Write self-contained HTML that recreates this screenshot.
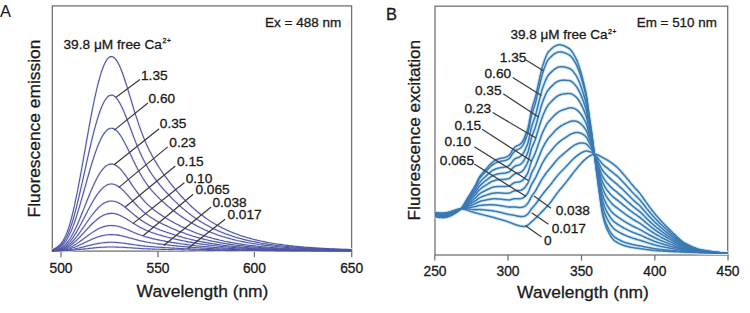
<!DOCTYPE html>
<html><head><meta charset="utf-8"><style>
html,body{margin:0;padding:0;background:#fff;width:750px;height:313px;overflow:hidden}
svg{display:block}
</style></head><body>
<svg width="750" height="313" viewBox="0 0 750 313"><g fill="none" stroke="#727272" stroke-width="1.3"><rect x="52.3" y="5.9" width="299.3" height="245.2"/><rect x="435" y="6.2" width="292.7" height="248.8"/><line x1="61" y1="251.1" x2="61" y2="257.2"/><line x1="158" y1="251.1" x2="158" y2="257.2"/><line x1="254.4" y1="251.1" x2="254.4" y2="257.2"/><line x1="351.7" y1="251.1" x2="351.7" y2="257.2"/><line x1="434.8" y1="255" x2="434.8" y2="260.6"/><line x1="508" y1="255" x2="508" y2="260.6"/><line x1="581.5" y1="255" x2="581.5" y2="260.6"/><line x1="654.8" y1="255" x2="654.8" y2="260.6"/><line x1="728" y1="255" x2="728" y2="260.6"/></g><g fill="none" stroke="#e9ebf5" stroke-width="2.4" stroke-linejoin="round"><path d="M52,250.3 53.5,249.3 55,248.4 56.5,247.5 58,246.4 59.5,245.2 61,243.6 62.5,241.6 64,239.1 65.5,236.1 67,232.5 68.5,228.3 70,223.4 71.5,218 73,212 74.5,205.5 76,198.4 77.5,191 79,183.2 80.5,175.1 82,166.8 83.5,158.3 85,149.8 86.5,141.4 88,133 89.5,124.7 91,116.7 92.5,108.9 94,101.5 95.5,94.6 97,88 98.5,82 100,76.6 101.5,71.7 103,67.5 104.5,63.9 106,61 107.5,58.8 109,57.4 110.5,56.6 112,56.6 113.5,57.2 115,58.5 116.5,60.4 118,62.8 119.5,65.8 121,69.3 122.5,73.2 124,77.5 125.5,82 127,86.7 128.5,91.6 130,96.5 131.5,101.5 133,106.5 134.5,111.4 136,116.1 137.5,120.7 139,125.2 140.5,129.4 142,133.4 143.5,137.3 145,140.9 146.5,144.4 148,147.6 149.5,150.7 151,153.6 152.5,156.4 154,159.1 155.5,161.6 157,164.1 158.5,166.5 160,168.8 161.5,171 163,173.2 164.5,175.3 166,177.4 167.5,179.4 169,181.4 170.5,183.4 172,185.3 173.5,187.2 175,189 176.5,190.8 178,192.5 179.5,194.2 181,195.9 182.5,197.5 184,199.1 185.5,200.7 187,202.2 188.5,203.7 190,205.1 191.5,206.5 193,207.9 194.5,209.2 196,210.5 197.5,211.8 199,213 200.5,214.2 202,215.3 203.5,216.4 205,217.5 206.5,218.6 208,219.6 209.5,220.6 211,221.6 212.5,222.5 214,223.4 215.5,224.3 217,225.1 218.5,226 220,226.8 221.5,227.5 223,228.3 224.5,229 226,229.7 227.5,230.4 229,231.1 230.5,231.7 232,232.3 233.5,232.9 235,233.5 236.5,234.1 238,234.6 239.5,235.2 241,235.7 242.5,236.2 244,236.6 245.5,237.1 247,237.6 248.5,238 250,238.4 251.5,238.8 253,239.2 254.5,239.6 256,239.9 257.5,240.3 259,240.6 260.5,241 262,241.3 263.5,241.6 265,241.9 266.5,242.2 268,242.5 269.5,242.8 271,243 272.5,243.3 274,243.5 275.5,243.8 277,244 278.5,244.2 280,244.4 281.5,244.6 283,244.8 284.5,245 286,245.2 287.5,245.4 289,245.6 290.5,245.8 292,245.9 293.5,246.1 295,246.2 296.5,246.4 298,246.5 299.5,246.7 301,246.8 302.5,246.9 304,247.1 305.5,247.2 307,247.3 308.5,247.4 310,247.5 311.5,247.6 313,247.7 314.5,247.8 316,247.9 317.5,248 319,248.1 320.5,248.2 322,248.3 323.5,248.4 325,248.5 326.5,248.5 328,248.6 329.5,248.7 331,248.8 332.5,248.8 334,248.9 335.5,249 337,249 338.5,249.1 340,249.1 341.5,249.2 343,249.2 344.5,249.3 346,249.4 347.5,249.4 349,249.5 350.5,249.5 352,249.5"/><path d="M52,250.4 53.5,249.6 55,248.9 56.5,248.2 58,247.3 59.5,246.3 61,245 62.5,243.4 64,241.5 65.5,239 67,236.2 68.5,232.8 70,228.9 71.5,224.6 73,219.7 74.5,214.5 76,208.9 77.5,202.9 79,196.6 80.5,190.2 82,183.5 83.5,176.7 85,169.9 86.5,163.1 88,156.4 89.5,149.8 91,143.3 92.5,137.1 94,131.2 95.5,125.6 97,120.4 98.5,115.6 100,111.2 101.5,107.3 103,103.9 104.5,101 106,98.7 107.5,97 109,95.8 110.5,95.2 112,95.1 113.5,95.6 115,96.7 116.5,98.2 118,100.2 119.5,102.6 121,105.4 122.5,108.5 124,111.9 125.5,115.5 127,119.3 128.5,123.2 130,127.2 131.5,131.2 133,135.2 134.5,139.1 136,142.9 137.5,146.6 139,150.1 140.5,153.5 142,156.8 143.5,159.8 145,162.8 146.5,165.5 148,168.1 149.5,170.6 151,173 152.5,175.2 154,177.3 155.5,179.4 157,181.3 158.5,183.2 160,185.1 161.5,186.9 163,188.6 164.5,190.3 166,192 167.5,193.6 169,195.2 170.5,196.8 172,198.3 173.5,199.8 175,201.3 176.5,202.7 178,204.1 179.5,205.5 181,206.8 182.5,208.2 184,209.4 185.5,210.7 187,211.9 188.5,213.1 190,214.2 191.5,215.4 193,216.5 194.5,217.5 196,218.6 197.5,219.6 199,220.5 200.5,221.5 202,222.4 203.5,223.3 205,224.2 206.5,225 208,225.8 209.5,226.6 211,227.4 212.5,228.2 214,228.9 215.5,229.6 217,230.3 218.5,230.9 220,231.6 221.5,232.2 223,232.8 224.5,233.4 226,234 227.5,234.5 229,235 230.5,235.5 232,236 233.5,236.5 235,237 236.5,237.4 238,237.9 239.5,238.3 241,238.7 242.5,239.1 244,239.5 245.5,239.9 247,240.2 248.5,240.6 250,240.9 251.5,241.2 253,241.5 254.5,241.8 256,242.1 257.5,242.4 259,242.7 260.5,243 262,243.2 263.5,243.5 265,243.7 266.5,243.9 268,244.2 269.5,244.4 271,244.6 272.5,244.8 274,245 275.5,245.2 277,245.4 278.5,245.6 280,245.7 281.5,245.9 283,246.1 284.5,246.2 286,246.4 287.5,246.5 289,246.7 290.5,246.8 292,246.9 293.5,247.1 295,247.2 296.5,247.3 298,247.4 299.5,247.5 301,247.6 302.5,247.7 304,247.8 305.5,247.9 307,248 308.5,248.1 310,248.2 311.5,248.3 313,248.4 314.5,248.5 316,248.5 317.5,248.6 319,248.7 320.5,248.8 322,248.8 323.5,248.9 325,249 326.5,249 328,249.1 329.5,249.1 331,249.2 332.5,249.3 334,249.3 335.5,249.4 337,249.4 338.5,249.5 340,249.5 341.5,249.6 343,249.6 344.5,249.6 346,249.7 347.5,249.7 349,249.8 350.5,249.8 352,249.8"/><path d="M52,250.5 53.5,249.9 55,249.4 56.5,248.8 58,248.1 59.5,247.3 61,246.3 62.5,245 64,243.5 65.5,241.6 67,239.3 68.5,236.6 70,233.6 71.5,230.2 73,226.4 74.5,222.2 76,217.8 77.5,213.1 79,208.2 80.5,203.1 82,197.8 83.5,192.5 85,187.1 86.5,181.8 88,176.5 89.5,171.3 91,166.2 92.5,161.3 94,156.6 95.5,152.2 97,148.1 98.5,144.3 100,140.9 101.5,137.8 103,135.1 104.5,132.9 106,131.1 107.5,129.7 109,128.8 110.5,128.3 112,128.2 113.5,128.6 115,129.4 116.5,130.6 118,132.2 119.5,134.1 121,136.3 122.5,138.8 124,141.4 125.5,144.3 127,147.3 128.5,150.3 130,153.5 131.5,156.6 133,159.8 134.5,162.8 136,165.8 137.5,168.7 139,171.5 140.5,174.2 142,176.8 143.5,179.2 145,181.5 146.5,183.7 148,185.7 149.5,187.7 151,189.5 152.5,191.3 154,193 155.5,194.6 157,196.1 158.5,197.6 160,199.1 161.5,200.5 163,201.9 164.5,203.2 166,204.5 167.5,205.8 169,207.1 170.5,208.3 172,209.5 173.5,210.7 175,211.8 176.5,213 178,214.1 179.5,215.2 181,216.2 182.5,217.3 184,218.3 185.5,219.2 187,220.2 188.5,221.1 190,222 191.5,222.9 193,223.8 194.5,224.6 196,225.4 197.5,226.2 199,227 200.5,227.8 202,228.5 203.5,229.2 205,229.9 206.5,230.5 208,231.2 209.5,231.8 211,232.4 212.5,233 214,233.6 215.5,234.1 217,234.7 218.5,235.2 220,235.7 221.5,236.2 223,236.7 224.5,237.1 226,237.6 227.5,238 229,238.4 230.5,238.8 232,239.2 233.5,239.6 235,240 236.5,240.3 238,240.7 239.5,241 241,241.3 242.5,241.6 244,241.9 245.5,242.2 247,242.5 248.5,242.8 250,243 251.5,243.3 253,243.6 254.5,243.8 256,244 257.5,244.2 259,244.5 260.5,244.7 262,244.9 263.5,245.1 265,245.3 266.5,245.4 268,245.6 269.5,245.8 271,246 272.5,246.1 274,246.3 275.5,246.4 277,246.6 278.5,246.7 280,246.9 281.5,247 283,247.1 284.5,247.2 286,247.4 287.5,247.5 289,247.6 290.5,247.7 292,247.8 293.5,247.9 295,248 296.5,248.1 298,248.2 299.5,248.3 301,248.4 302.5,248.4 304,248.5 305.5,248.6 307,248.7 308.5,248.7 310,248.8 311.5,248.9 313,248.9 314.5,249 316,249.1 317.5,249.1 319,249.2 320.5,249.2 322,249.3 323.5,249.3 325,249.4 326.5,249.4 328,249.5 329.5,249.5 331,249.6 332.5,249.6 334,249.7 335.5,249.7 337,249.8 338.5,249.8 340,249.8 341.5,249.9 343,249.9 344.5,249.9 346,250 347.5,250 349,250 350.5,250.1 352,250.1"/><path d="M52,250.7 53.5,250.2 55,249.8 56.5,249.4 58,249 59.5,248.4 61,247.7 62.5,246.8 64,245.7 65.5,244.3 67,242.7 68.5,240.8 70,238.7 71.5,236.2 73,233.6 74.5,230.6 76,227.5 77.5,224.2 79,220.7 80.5,217 82,213.3 83.5,209.6 85,205.8 86.5,202 88,198.2 89.5,194.5 91,190.9 92.5,187.5 94,184.2 95.5,181 97,178.1 98.5,175.4 100,173 101.5,170.8 103,168.9 104.5,167.3 106,166 107.5,165.1 109,164.4 110.5,164.1 112,164 113.5,164.3 115,164.9 116.5,165.7 118,166.8 119.5,168.2 121,169.7 122.5,171.5 124,173.4 125.5,175.4 127,177.5 128.5,179.7 130,181.9 131.5,184.1 133,186.4 134.5,188.5 136,190.7 137.5,192.7 139,194.7 140.5,196.6 142,198.4 143.5,200.1 145,201.8 146.5,203.3 148,204.8 149.5,206.1 151,207.4 152.5,208.7 154,209.9 155.5,211 157,212.1 158.5,213.2 160,214.2 161.5,215.2 163,216.2 164.5,217.1 166,218.1 167.5,219 169,219.9 170.5,220.8 172,221.6 173.5,222.4 175,223.3 176.5,224.1 178,224.8 179.5,225.6 181,226.4 182.5,227.1 184,227.8 185.5,228.5 187,229.2 188.5,229.8 190,230.5 191.5,231.1 193,231.7 194.5,232.3 196,232.9 197.5,233.5 199,234 200.5,234.5 202,235 203.5,235.5 205,236 206.5,236.5 208,237 209.5,237.4 211,237.8 212.5,238.3 214,238.7 215.5,239.1 217,239.4 218.5,239.8 220,240.2 221.5,240.5 223,240.8 224.5,241.2 226,241.5 227.5,241.8 229,242.1 230.5,242.4 232,242.7 233.5,242.9 235,243.2 236.5,243.4 238,243.7 239.5,243.9 241,244.1 242.5,244.4 244,244.6 245.5,244.8 247,245 248.5,245.2 250,245.4 251.5,245.5 253,245.7 254.5,245.9 256,246.1 257.5,246.2 259,246.4 260.5,246.5 262,246.7 263.5,246.8 265,246.9 266.5,247.1 268,247.2 269.5,247.3 271,247.4 272.5,247.5 274,247.7 275.5,247.8 277,247.9 278.5,248 280,248.1 281.5,248.2 283,248.2 284.5,248.3 286,248.4 287.5,248.5 289,248.6 290.5,248.7 292,248.7 293.5,248.8 295,248.9 296.5,248.9 298,249 299.5,249.1 301,249.1 302.5,249.2 304,249.2 305.5,249.3 307,249.3 308.5,249.4 310,249.4 311.5,249.5 313,249.5 314.5,249.6 316,249.6 317.5,249.7 319,249.7 320.5,249.8 322,249.8 323.5,249.8 325,249.9 326.5,249.9 328,249.9 329.5,250 331,250 332.5,250 334,250.1 335.5,250.1 337,250.1 338.5,250.1 340,250.2 341.5,250.2 343,250.2 344.5,250.2 346,250.3 347.5,250.3 349,250.3 350.5,250.3 352,250.3"/><path d="M52,250.7 53.5,250.4 55,250.1 56.5,249.8 58,249.4 59.5,249 61,248.4 62.5,247.8 64,246.9 65.5,245.9 67,244.6 68.5,243.2 70,241.5 71.5,239.6 73,237.6 74.5,235.3 76,232.9 77.5,230.3 79,227.6 80.5,224.8 82,222 83.5,219.1 85,216.2 86.5,213.2 88,210.3 89.5,207.5 91,204.7 92.5,202.1 94,199.5 95.5,197.1 97,194.9 98.5,192.8 100,190.9 101.5,189.2 103,187.8 104.5,186.6 106,185.6 107.5,184.8 109,184.3 110.5,184 112,184 113.5,184.2 115,184.7 116.5,185.3 118,186.2 119.5,187.2 121,188.4 122.5,189.8 124,191.2 125.5,192.8 127,194.4 128.5,196.1 130,197.8 131.5,199.5 133,201.2 134.5,202.9 136,204.5 137.5,206.1 139,207.7 140.5,209.1 142,210.5 143.5,211.8 145,213.1 146.5,214.3 148,215.4 149.5,216.4 151,217.5 152.5,218.4 154,219.3 155.5,220.2 157,221.1 158.5,221.9 160,222.7 161.5,223.4 163,224.2 164.5,224.9 166,225.6 167.5,226.3 169,227 170.5,227.7 172,228.4 173.5,229 175,229.6 176.5,230.3 178,230.9 179.5,231.4 181,232 182.5,232.6 184,233.1 185.5,233.7 187,234.2 188.5,234.7 190,235.2 191.5,235.7 193,236.2 194.5,236.6 196,237.1 197.5,237.5 199,237.9 200.5,238.3 202,238.7 203.5,239.1 205,239.5 206.5,239.8 208,240.2 209.5,240.5 211,240.9 212.5,241.2 214,241.5 215.5,241.8 217,242.1 218.5,242.4 220,242.7 221.5,242.9 223,243.2 224.5,243.4 226,243.7 227.5,243.9 229,244.1 230.5,244.4 232,244.6 233.5,244.8 235,245 236.5,245.2 238,245.4 239.5,245.5 241,245.7 242.5,245.9 244,246.1 245.5,246.2 247,246.4 248.5,246.5 250,246.7 251.5,246.8 253,246.9 254.5,247.1 256,247.2 257.5,247.3 259,247.4 260.5,247.5 262,247.7 263.5,247.8 265,247.9 266.5,248 268,248.1 269.5,248.2 271,248.3 272.5,248.3 274,248.4 275.5,248.5 277,248.6 278.5,248.7 280,248.7 281.5,248.8 283,248.9 284.5,248.9 286,249 287.5,249.1 289,249.1 290.5,249.2 292,249.3 293.5,249.3 295,249.4 296.5,249.4 298,249.5 299.5,249.5 301,249.6 302.5,249.6 304,249.6 305.5,249.7 307,249.7 308.5,249.8 310,249.8 311.5,249.8 313,249.9 314.5,249.9 316,249.9 317.5,250 319,250 320.5,250 322,250.1 323.5,250.1 325,250.1 326.5,250.2 328,250.2 329.5,250.2 331,250.2 332.5,250.3 334,250.3 335.5,250.3 337,250.3 338.5,250.3 340,250.4 341.5,250.4 343,250.4 344.5,250.4 346,250.4 347.5,250.4 349,250.5 350.5,250.5 352,250.5"/><path d="M52,250.8 53.5,250.6 55,250.3 56.5,250.1 58,249.8 59.5,249.5 61,249.1 62.5,248.6 64,247.9 65.5,247.2 67,246.2 68.5,245.2 70,243.9 71.5,242.5 73,241 74.5,239.3 76,237.5 77.5,235.6 79,233.6 80.5,231.5 82,229.4 83.5,227.2 85,225 86.5,222.8 88,220.7 89.5,218.5 91,216.5 92.5,214.5 94,212.6 95.5,210.8 97,209.1 98.5,207.6 100,206.2 101.5,204.9 103,203.8 104.5,202.9 106,202.2 107.5,201.6 109,201.2 110.5,201 112,201 113.5,201.2 115,201.5 116.5,202 118,202.6 119.5,203.4 121,204.3 122.5,205.3 124,206.4 125.5,207.5 127,208.8 128.5,210 130,211.3 131.5,212.6 133,213.8 134.5,215.1 136,216.3 137.5,217.5 139,218.6 140.5,219.7 142,220.8 143.5,221.8 145,222.7 146.5,223.6 148,224.4 149.5,225.2 151,226 152.5,226.7 154,227.4 155.5,228 157,228.7 158.5,229.3 160,229.9 161.5,230.4 163,231 164.5,231.5 166,232.1 167.5,232.6 169,233.1 170.5,233.6 172,234.1 173.5,234.6 175,235.1 176.5,235.5 178,236 179.5,236.4 181,236.8 182.5,237.3 184,237.7 185.5,238.1 187,238.5 188.5,238.8 190,239.2 191.5,239.6 193,239.9 194.5,240.3 196,240.6 197.5,240.9 199,241.2 200.5,241.5 202,241.8 203.5,242.1 205,242.4 206.5,242.7 208,242.9 209.5,243.2 211,243.4 212.5,243.7 214,243.9 215.5,244.1 217,244.4 218.5,244.6 220,244.8 221.5,245 223,245.2 224.5,245.4 226,245.5 227.5,245.7 229,245.9 230.5,246 232,246.2 233.5,246.4 235,246.5 236.5,246.7 238,246.8 239.5,246.9 241,247.1 242.5,247.2 244,247.3 245.5,247.4 247,247.5 248.5,247.7 250,247.8 251.5,247.9 253,248 254.5,248.1 256,248.2 257.5,248.3 259,248.3 260.5,248.4 262,248.5 263.5,248.6 265,248.7 266.5,248.7 268,248.8 269.5,248.9 271,248.9 272.5,249 274,249.1 275.5,249.1 277,249.2 278.5,249.3 280,249.3 281.5,249.4 283,249.4 284.5,249.5 286,249.5 287.5,249.6 289,249.6 290.5,249.7 292,249.7 293.5,249.7 295,249.8 296.5,249.8 298,249.9 299.5,249.9 301,249.9 302.5,250 304,250 305.5,250 307,250.1 308.5,250.1 310,250.1 311.5,250.1 313,250.2 314.5,250.2 316,250.2 317.5,250.2 319,250.3 320.5,250.3 322,250.3 323.5,250.3 325,250.3 326.5,250.4 328,250.4 329.5,250.4 331,250.4 332.5,250.4 334,250.5 335.5,250.5 337,250.5 338.5,250.5 340,250.5 341.5,250.5 343,250.6 344.5,250.6 346,250.6 347.5,250.6 349,250.6 350.5,250.6 352,250.6"/><path d="M52,250.9 53.5,250.7 55,250.5 56.5,250.3 58,250.1 59.5,249.9 61,249.6 62.5,249.2 64,248.7 65.5,248.1 67,247.4 68.5,246.6 70,245.7 71.5,244.6 73,243.5 74.5,242.2 76,240.8 77.5,239.4 79,237.9 80.5,236.3 82,234.7 83.5,233.1 85,231.4 86.5,229.8 88,228.2 89.5,226.6 91,225 92.5,223.5 94,222.1 95.5,220.8 97,219.5 98.5,218.3 100,217.3 101.5,216.3 103,215.5 104.5,214.8 106,214.3 107.5,213.9 109,213.6 110.5,213.4 112,213.4 113.5,213.5 115,213.8 116.5,214.1 118,214.6 119.5,215.2 121,215.9 122.5,216.6 124,217.5 125.5,218.3 127,219.2 128.5,220.2 130,221.1 131.5,222.1 133,223.1 134.5,224 136,224.9 137.5,225.8 139,226.7 140.5,227.5 142,228.3 143.5,229 145,229.7 146.5,230.4 148,231 149.5,231.6 151,232.2 152.5,232.7 154,233.2 155.5,233.7 157,234.2 158.5,234.7 160,235.1 161.5,235.5 163,236 164.5,236.4 166,236.8 167.5,237.2 169,237.5 170.5,237.9 172,238.3 173.5,238.7 175,239 176.5,239.4 178,239.7 179.5,240 181,240.4 182.5,240.7 184,241 185.5,241.3 187,241.6 188.5,241.9 190,242.1 191.5,242.4 193,242.7 194.5,242.9 196,243.2 197.5,243.4 199,243.7 200.5,243.9 202,244.1 203.5,244.3 205,244.5 206.5,244.7 208,244.9 209.5,245.1 211,245.3 212.5,245.5 214,245.7 215.5,245.8 217,246 218.5,246.2 220,246.3 221.5,246.5 223,246.6 224.5,246.8 226,246.9 227.5,247 229,247.1 230.5,247.3 232,247.4 233.5,247.5 235,247.6 236.5,247.7 238,247.8 239.5,247.9 241,248 242.5,248.1 244,248.2 245.5,248.3 247,248.4 248.5,248.5 250,248.6 251.5,248.6 253,248.7 254.5,248.8 256,248.9 257.5,248.9 259,249 260.5,249.1 262,249.1 263.5,249.2 265,249.2 266.5,249.3 268,249.4 269.5,249.4 271,249.5 272.5,249.5 274,249.6 275.5,249.6 277,249.6 278.5,249.7 280,249.7 281.5,249.8 283,249.8 284.5,249.8 286,249.9 287.5,249.9 289,250 290.5,250 292,250 293.5,250 295,250.1 296.5,250.1 298,250.1 299.5,250.2 301,250.2 302.5,250.2 304,250.2 305.5,250.3 307,250.3 308.5,250.3 310,250.3 311.5,250.4 313,250.4 314.5,250.4 316,250.4 317.5,250.4 319,250.4 320.5,250.5 322,250.5 323.5,250.5 325,250.5 326.5,250.5 328,250.5 329.5,250.6 331,250.6 332.5,250.6 334,250.6 335.5,250.6 337,250.6 338.5,250.6 340,250.6 341.5,250.7 343,250.7 344.5,250.7 346,250.7 347.5,250.7 349,250.7 350.5,250.7 352,250.7"/><path d="M52,250.9 53.5,250.8 55,250.7 56.5,250.5 58,250.4 59.5,250.2 61,250 62.5,249.8 64,249.4 65.5,249 67,248.6 68.5,248 70,247.4 71.5,246.7 73,245.9 74.5,245 76,244.1 77.5,243.1 79,242.1 80.5,241 82,240 83.5,238.9 85,237.7 86.5,236.6 88,235.5 89.5,234.4 91,233.4 92.5,232.4 94,231.4 95.5,230.5 97,229.6 98.5,228.8 100,228.1 101.5,227.5 103,226.9 104.5,226.5 106,226.1 107.5,225.8 109,225.6 110.5,225.5 112,225.5 113.5,225.6 115,225.8 116.5,226 118,226.3 119.5,226.7 121,227.2 122.5,227.7 124,228.2 125.5,228.8 127,229.5 128.5,230.1 130,230.7 131.5,231.4 133,232.1 134.5,232.7 136,233.3 137.5,233.9 139,234.5 140.5,235.1 142,235.6 143.5,236.1 145,236.6 146.5,237 148,237.4 149.5,237.8 151,238.2 152.5,238.6 154,238.9 155.5,239.3 157,239.6 158.5,239.9 160,240.2 161.5,240.5 163,240.8 164.5,241.1 166,241.4 167.5,241.6 169,241.9 170.5,242.1 172,242.4 173.5,242.6 175,242.9 176.5,243.1 178,243.3 179.5,243.6 181,243.8 182.5,244 184,244.2 185.5,244.4 187,244.6 188.5,244.8 190,245 191.5,245.2 193,245.3 194.5,245.5 196,245.7 197.5,245.9 199,246 200.5,246.2 202,246.3 203.5,246.5 205,246.6 206.5,246.8 208,246.9 209.5,247 211,247.1 212.5,247.3 214,247.4 215.5,247.5 217,247.6 218.5,247.7 220,247.8 221.5,247.9 223,248 224.5,248.1 226,248.2 227.5,248.3 229,248.4 230.5,248.5 232,248.6 233.5,248.6 235,248.7 236.5,248.8 238,248.9 239.5,248.9 241,249 242.5,249.1 244,249.1 245.5,249.2 247,249.2 248.5,249.3 250,249.3 251.5,249.4 253,249.5 254.5,249.5 256,249.6 257.5,249.6 259,249.6 260.5,249.7 262,249.7 263.5,249.8 265,249.8 266.5,249.8 268,249.9 269.5,249.9 271,250 272.5,250 274,250 275.5,250.1 277,250.1 278.5,250.1 280,250.1 281.5,250.2 283,250.2 284.5,250.2 286,250.2 287.5,250.3 289,250.3 290.5,250.3 292,250.3 293.5,250.4 295,250.4 296.5,250.4 298,250.4 299.5,250.4 301,250.5 302.5,250.5 304,250.5 305.5,250.5 307,250.5 308.5,250.5 310,250.5 311.5,250.6 313,250.6 314.5,250.6 316,250.6 317.5,250.6 319,250.6 320.5,250.6 322,250.6 323.5,250.7 325,250.7 326.5,250.7 328,250.7 329.5,250.7 331,250.7 332.5,250.7 334,250.7 335.5,250.7 337,250.7 338.5,250.7 340,250.8 341.5,250.8 343,250.8 344.5,250.8 346,250.8 347.5,250.8 349,250.8 350.5,250.8 352,250.8"/><path d="M52,250.9 53.5,250.9 55,250.8 56.5,250.7 58,250.6 59.5,250.5 61,250.4 62.5,250.2 64,250 65.5,249.7 67,249.4 68.5,249.1 70,248.7 71.5,248.2 73,247.7 74.5,247.2 76,246.6 77.5,245.9 79,245.3 80.5,244.6 82,243.9 83.5,243.2 85,242.5 86.5,241.8 88,241 89.5,240.4 91,239.7 92.5,239 94,238.4 95.5,237.8 97,237.3 98.5,236.8 100,236.3 101.5,235.9 103,235.5 104.5,235.2 106,235 107.5,234.8 109,234.7 110.5,234.6 112,234.6 113.5,234.7 115,234.8 116.5,234.9 118,235.1 119.5,235.4 121,235.7 122.5,236 124,236.4 125.5,236.7 127,237.1 128.5,237.6 130,238 131.5,238.4 133,238.8 134.5,239.2 136,239.6 137.5,240 139,240.4 140.5,240.7 142,241.1 143.5,241.4 145,241.7 146.5,242 148,242.3 149.5,242.5 151,242.8 152.5,243 154,243.2 155.5,243.5 157,243.7 158.5,243.9 160,244.1 161.5,244.3 163,244.4 164.5,244.6 166,244.8 167.5,245 169,245.1 170.5,245.3 172,245.5 173.5,245.6 175,245.8 176.5,245.9 178,246.1 179.5,246.2 181,246.4 182.5,246.5 184,246.6 185.5,246.8 187,246.9 188.5,247 190,247.1 191.5,247.3 193,247.4 194.5,247.5 196,247.6 197.5,247.7 199,247.8 200.5,247.9 202,248 203.5,248.1 205,248.2 206.5,248.3 208,248.4 209.5,248.4 211,248.5 212.5,248.6 214,248.7 215.5,248.7 217,248.8 218.5,248.9 220,249 221.5,249 223,249.1 224.5,249.1 226,249.2 227.5,249.3 229,249.3 230.5,249.4 232,249.4 233.5,249.5 235,249.5 236.5,249.6 238,249.6 239.5,249.7 241,249.7 242.5,249.7 244,249.8 245.5,249.8 247,249.9 248.5,249.9 250,249.9 251.5,250 253,250 254.5,250 256,250.1 257.5,250.1 259,250.1 260.5,250.2 262,250.2 263.5,250.2 265,250.2 266.5,250.3 268,250.3 269.5,250.3 271,250.3 272.5,250.3 274,250.4 275.5,250.4 277,250.4 278.5,250.4 280,250.4 281.5,250.5 283,250.5 284.5,250.5 286,250.5 287.5,250.5 289,250.5 290.5,250.6 292,250.6 293.5,250.6 295,250.6 296.5,250.6 298,250.6 299.5,250.6 301,250.6 302.5,250.7 304,250.7 305.5,250.7 307,250.7 308.5,250.7 310,250.7 311.5,250.7 313,250.7 314.5,250.7 316,250.7 317.5,250.8 319,250.8 320.5,250.8 322,250.8 323.5,250.8 325,250.8 326.5,250.8 328,250.8 329.5,250.8 331,250.8 332.5,250.8 334,250.8 335.5,250.8 337,250.8 338.5,250.8 340,250.8 341.5,250.8 343,250.9 344.5,250.9 346,250.9 347.5,250.9 349,250.9 350.5,250.9 352,250.9"/><path d="M52,251 53.5,250.9 55,250.9 56.5,250.8 58,250.8 59.5,250.7 61,250.7 62.5,250.6 64,250.5 65.5,250.3 67,250.2 68.5,250 70,249.8 71.5,249.5 73,249.3 74.5,249 76,248.6 77.5,248.3 79,248 80.5,247.6 82,247.2 83.5,246.9 85,246.5 86.5,246.1 88,245.7 89.5,245.4 91,245 92.5,244.6 94,244.3 95.5,244 97,243.7 98.5,243.4 100,243.2 101.5,243 103,242.8 104.5,242.6 106,242.5 107.5,242.4 109,242.3 110.5,242.3 112,242.3 113.5,242.3 115,242.4 116.5,242.5 118,242.6 119.5,242.7 121,242.9 122.5,243 124,243.2 125.5,243.4 127,243.7 128.5,243.9 130,244.1 131.5,244.3 133,244.5 134.5,244.8 136,245 137.5,245.2 139,245.4 140.5,245.6 142,245.7 143.5,245.9 145,246.1 146.5,246.2 148,246.4 149.5,246.5 151,246.6 152.5,246.8 154,246.9 155.5,247 157,247.1 158.5,247.2 160,247.3 161.5,247.4 163,247.5 164.5,247.6 166,247.7 167.5,247.8 169,247.9 170.5,248 172,248.1 173.5,248.1 175,248.2 176.5,248.3 178,248.4 179.5,248.5 181,248.5 182.5,248.6 184,248.7 185.5,248.8 187,248.8 188.5,248.9 190,248.9 191.5,249 193,249.1 194.5,249.1 196,249.2 197.5,249.2 199,249.3 200.5,249.4 202,249.4 203.5,249.5 205,249.5 206.5,249.6 208,249.6 209.5,249.6 211,249.7 212.5,249.7 214,249.8 215.5,249.8 217,249.8 218.5,249.9 220,249.9 221.5,250 223,250 224.5,250 226,250 227.5,250.1 229,250.1 230.5,250.1 232,250.2 233.5,250.2 235,250.2 236.5,250.2 238,250.3 239.5,250.3 241,250.3 242.5,250.3 244,250.4 245.5,250.4 247,250.4 248.5,250.4 250,250.4 251.5,250.5 253,250.5 254.5,250.5 256,250.5 257.5,250.5 259,250.5 260.5,250.6 262,250.6 263.5,250.6 265,250.6 266.5,250.6 268,250.6 269.5,250.6 271,250.6 272.5,250.7 274,250.7 275.5,250.7 277,250.7 278.5,250.7 280,250.7 281.5,250.7 283,250.7 284.5,250.7 286,250.7 287.5,250.7 289,250.8 290.5,250.8 292,250.8 293.5,250.8 295,250.8 296.5,250.8 298,250.8 299.5,250.8 301,250.8 302.5,250.8 304,250.8 305.5,250.8 307,250.8 308.5,250.8 310,250.8 311.5,250.8 313,250.9 314.5,250.9 316,250.9 317.5,250.9 319,250.9 320.5,250.9 322,250.9 323.5,250.9 325,250.9 326.5,250.9 328,250.9 329.5,250.9 331,250.9 332.5,250.9 334,250.9 335.5,250.9 337,250.9 338.5,250.9 340,250.9 341.5,250.9 343,250.9 344.5,250.9 346,250.9 347.5,250.9 349,250.9 350.5,250.9 352,250.9"/><path d="M52,251 53.5,251 55,250.9 56.5,250.9 58,250.9 59.5,250.9 61,250.8 62.5,250.8 64,250.8 65.5,250.7 67,250.6 68.5,250.5 70,250.4 71.5,250.3 73,250.2 74.5,250.1 76,249.9 77.5,249.8 79,249.6 80.5,249.4 82,249.3 83.5,249.1 85,248.9 86.5,248.7 88,248.6 89.5,248.4 91,248.2 92.5,248.1 94,247.9 95.5,247.8 97,247.6 98.5,247.5 100,247.4 101.5,247.3 103,247.2 104.5,247.2 106,247.1 107.5,247 109,247 110.5,247 112,247 113.5,247 115,247 116.5,247.1 118,247.1 119.5,247.2 121,247.3 122.5,247.3 124,247.4 125.5,247.5 127,247.6 128.5,247.7 130,247.8 131.5,247.9 133,248 134.5,248.1 136,248.2 137.5,248.3 139,248.4 140.5,248.5 142,248.6 143.5,248.7 145,248.7 146.5,248.8 148,248.9 149.5,248.9 151,249 152.5,249.1 154,249.1 155.5,249.2 157,249.2 158.5,249.3 160,249.3 161.5,249.4 163,249.4 164.5,249.4 166,249.5 167.5,249.5 169,249.6 170.5,249.6 172,249.6 173.5,249.7 175,249.7 176.5,249.8 178,249.8 179.5,249.8 181,249.9 182.5,249.9 184,249.9 185.5,250 187,250 188.5,250 190,250.1 191.5,250.1 193,250.1 194.5,250.1 196,250.2 197.5,250.2 199,250.2 200.5,250.2 202,250.3 203.5,250.3 205,250.3 206.5,250.3 208,250.4 209.5,250.4 211,250.4 212.5,250.4 214,250.4 215.5,250.5 217,250.5 218.5,250.5 220,250.5 221.5,250.5 223,250.5 224.5,250.5 226,250.6 227.5,250.6 229,250.6 230.5,250.6 232,250.6 233.5,250.6 235,250.6 236.5,250.7 238,250.7 239.5,250.7 241,250.7 242.5,250.7 244,250.7 245.5,250.7 247,250.7 248.5,250.7 250,250.7 251.5,250.7 253,250.8 254.5,250.8 256,250.8 257.5,250.8 259,250.8 260.5,250.8 262,250.8 263.5,250.8 265,250.8 266.5,250.8 268,250.8 269.5,250.8 271,250.8 272.5,250.8 274,250.8 275.5,250.9 277,250.9 278.5,250.9 280,250.9 281.5,250.9 283,250.9 284.5,250.9 286,250.9 287.5,250.9 289,250.9 290.5,250.9 292,250.9 293.5,250.9 295,250.9 296.5,250.9 298,250.9 299.5,250.9 301,250.9 302.5,250.9 304,250.9 305.5,250.9 307,250.9 308.5,250.9 310,250.9 311.5,250.9 313,250.9 314.5,250.9 316,250.9 317.5,250.9 319,250.9 320.5,250.9 322,250.9 323.5,250.9 325,250.9 326.5,250.9 328,251 329.5,251 331,251 332.5,251 334,251 335.5,251 337,251 338.5,251 340,251 341.5,251 343,251 344.5,251 346,251 347.5,251 349,251 350.5,251 352,251"/></g><g fill="none" stroke="#4f56a3" stroke-width="1.1" stroke-linejoin="round"><path d="M52,250.3 53.5,249.3 55,248.4 56.5,247.5 58,246.4 59.5,245.2 61,243.6 62.5,241.6 64,239.1 65.5,236.1 67,232.5 68.5,228.3 70,223.4 71.5,218 73,212 74.5,205.5 76,198.4 77.5,191 79,183.2 80.5,175.1 82,166.8 83.5,158.3 85,149.8 86.5,141.4 88,133 89.5,124.7 91,116.7 92.5,108.9 94,101.5 95.5,94.6 97,88 98.5,82 100,76.6 101.5,71.7 103,67.5 104.5,63.9 106,61 107.5,58.8 109,57.4 110.5,56.6 112,56.6 113.5,57.2 115,58.5 116.5,60.4 118,62.8 119.5,65.8 121,69.3 122.5,73.2 124,77.5 125.5,82 127,86.7 128.5,91.6 130,96.5 131.5,101.5 133,106.5 134.5,111.4 136,116.1 137.5,120.7 139,125.2 140.5,129.4 142,133.4 143.5,137.3 145,140.9 146.5,144.4 148,147.6 149.5,150.7 151,153.6 152.5,156.4 154,159.1 155.5,161.6 157,164.1 158.5,166.5 160,168.8 161.5,171 163,173.2 164.5,175.3 166,177.4 167.5,179.4 169,181.4 170.5,183.4 172,185.3 173.5,187.2 175,189 176.5,190.8 178,192.5 179.5,194.2 181,195.9 182.5,197.5 184,199.1 185.5,200.7 187,202.2 188.5,203.7 190,205.1 191.5,206.5 193,207.9 194.5,209.2 196,210.5 197.5,211.8 199,213 200.5,214.2 202,215.3 203.5,216.4 205,217.5 206.5,218.6 208,219.6 209.5,220.6 211,221.6 212.5,222.5 214,223.4 215.5,224.3 217,225.1 218.5,226 220,226.8 221.5,227.5 223,228.3 224.5,229 226,229.7 227.5,230.4 229,231.1 230.5,231.7 232,232.3 233.5,232.9 235,233.5 236.5,234.1 238,234.6 239.5,235.2 241,235.7 242.5,236.2 244,236.6 245.5,237.1 247,237.6 248.5,238 250,238.4 251.5,238.8 253,239.2 254.5,239.6 256,239.9 257.5,240.3 259,240.6 260.5,241 262,241.3 263.5,241.6 265,241.9 266.5,242.2 268,242.5 269.5,242.8 271,243 272.5,243.3 274,243.5 275.5,243.8 277,244 278.5,244.2 280,244.4 281.5,244.6 283,244.8 284.5,245 286,245.2 287.5,245.4 289,245.6 290.5,245.8 292,245.9 293.5,246.1 295,246.2 296.5,246.4 298,246.5 299.5,246.7 301,246.8 302.5,246.9 304,247.1 305.5,247.2 307,247.3 308.5,247.4 310,247.5 311.5,247.6 313,247.7 314.5,247.8 316,247.9 317.5,248 319,248.1 320.5,248.2 322,248.3 323.5,248.4 325,248.5 326.5,248.5 328,248.6 329.5,248.7 331,248.8 332.5,248.8 334,248.9 335.5,249 337,249 338.5,249.1 340,249.1 341.5,249.2 343,249.2 344.5,249.3 346,249.4 347.5,249.4 349,249.5 350.5,249.5 352,249.5"/><path d="M52,250.4 53.5,249.6 55,248.9 56.5,248.2 58,247.3 59.5,246.3 61,245 62.5,243.4 64,241.5 65.5,239 67,236.2 68.5,232.8 70,228.9 71.5,224.6 73,219.7 74.5,214.5 76,208.9 77.5,202.9 79,196.6 80.5,190.2 82,183.5 83.5,176.7 85,169.9 86.5,163.1 88,156.4 89.5,149.8 91,143.3 92.5,137.1 94,131.2 95.5,125.6 97,120.4 98.5,115.6 100,111.2 101.5,107.3 103,103.9 104.5,101 106,98.7 107.5,97 109,95.8 110.5,95.2 112,95.1 113.5,95.6 115,96.7 116.5,98.2 118,100.2 119.5,102.6 121,105.4 122.5,108.5 124,111.9 125.5,115.5 127,119.3 128.5,123.2 130,127.2 131.5,131.2 133,135.2 134.5,139.1 136,142.9 137.5,146.6 139,150.1 140.5,153.5 142,156.8 143.5,159.8 145,162.8 146.5,165.5 148,168.1 149.5,170.6 151,173 152.5,175.2 154,177.3 155.5,179.4 157,181.3 158.5,183.2 160,185.1 161.5,186.9 163,188.6 164.5,190.3 166,192 167.5,193.6 169,195.2 170.5,196.8 172,198.3 173.5,199.8 175,201.3 176.5,202.7 178,204.1 179.5,205.5 181,206.8 182.5,208.2 184,209.4 185.5,210.7 187,211.9 188.5,213.1 190,214.2 191.5,215.4 193,216.5 194.5,217.5 196,218.6 197.5,219.6 199,220.5 200.5,221.5 202,222.4 203.5,223.3 205,224.2 206.5,225 208,225.8 209.5,226.6 211,227.4 212.5,228.2 214,228.9 215.5,229.6 217,230.3 218.5,230.9 220,231.6 221.5,232.2 223,232.8 224.5,233.4 226,234 227.5,234.5 229,235 230.5,235.5 232,236 233.5,236.5 235,237 236.5,237.4 238,237.9 239.5,238.3 241,238.7 242.5,239.1 244,239.5 245.5,239.9 247,240.2 248.5,240.6 250,240.9 251.5,241.2 253,241.5 254.5,241.8 256,242.1 257.5,242.4 259,242.7 260.5,243 262,243.2 263.5,243.5 265,243.7 266.5,243.9 268,244.2 269.5,244.4 271,244.6 272.5,244.8 274,245 275.5,245.2 277,245.4 278.5,245.6 280,245.7 281.5,245.9 283,246.1 284.5,246.2 286,246.4 287.5,246.5 289,246.7 290.5,246.8 292,246.9 293.5,247.1 295,247.2 296.5,247.3 298,247.4 299.5,247.5 301,247.6 302.5,247.7 304,247.8 305.5,247.9 307,248 308.5,248.1 310,248.2 311.5,248.3 313,248.4 314.5,248.5 316,248.5 317.5,248.6 319,248.7 320.5,248.8 322,248.8 323.5,248.9 325,249 326.5,249 328,249.1 329.5,249.1 331,249.2 332.5,249.3 334,249.3 335.5,249.4 337,249.4 338.5,249.5 340,249.5 341.5,249.6 343,249.6 344.5,249.6 346,249.7 347.5,249.7 349,249.8 350.5,249.8 352,249.8"/><path d="M52,250.5 53.5,249.9 55,249.4 56.5,248.8 58,248.1 59.5,247.3 61,246.3 62.5,245 64,243.5 65.5,241.6 67,239.3 68.5,236.6 70,233.6 71.5,230.2 73,226.4 74.5,222.2 76,217.8 77.5,213.1 79,208.2 80.5,203.1 82,197.8 83.5,192.5 85,187.1 86.5,181.8 88,176.5 89.5,171.3 91,166.2 92.5,161.3 94,156.6 95.5,152.2 97,148.1 98.5,144.3 100,140.9 101.5,137.8 103,135.1 104.5,132.9 106,131.1 107.5,129.7 109,128.8 110.5,128.3 112,128.2 113.5,128.6 115,129.4 116.5,130.6 118,132.2 119.5,134.1 121,136.3 122.5,138.8 124,141.4 125.5,144.3 127,147.3 128.5,150.3 130,153.5 131.5,156.6 133,159.8 134.5,162.8 136,165.8 137.5,168.7 139,171.5 140.5,174.2 142,176.8 143.5,179.2 145,181.5 146.5,183.7 148,185.7 149.5,187.7 151,189.5 152.5,191.3 154,193 155.5,194.6 157,196.1 158.5,197.6 160,199.1 161.5,200.5 163,201.9 164.5,203.2 166,204.5 167.5,205.8 169,207.1 170.5,208.3 172,209.5 173.5,210.7 175,211.8 176.5,213 178,214.1 179.5,215.2 181,216.2 182.5,217.3 184,218.3 185.5,219.2 187,220.2 188.5,221.1 190,222 191.5,222.9 193,223.8 194.5,224.6 196,225.4 197.5,226.2 199,227 200.5,227.8 202,228.5 203.5,229.2 205,229.9 206.5,230.5 208,231.2 209.5,231.8 211,232.4 212.5,233 214,233.6 215.5,234.1 217,234.7 218.5,235.2 220,235.7 221.5,236.2 223,236.7 224.5,237.1 226,237.6 227.5,238 229,238.4 230.5,238.8 232,239.2 233.5,239.6 235,240 236.5,240.3 238,240.7 239.5,241 241,241.3 242.5,241.6 244,241.9 245.5,242.2 247,242.5 248.5,242.8 250,243 251.5,243.3 253,243.6 254.5,243.8 256,244 257.5,244.2 259,244.5 260.5,244.7 262,244.9 263.5,245.1 265,245.3 266.5,245.4 268,245.6 269.5,245.8 271,246 272.5,246.1 274,246.3 275.5,246.4 277,246.6 278.5,246.7 280,246.9 281.5,247 283,247.1 284.5,247.2 286,247.4 287.5,247.5 289,247.6 290.5,247.7 292,247.8 293.5,247.9 295,248 296.5,248.1 298,248.2 299.5,248.3 301,248.4 302.5,248.4 304,248.5 305.5,248.6 307,248.7 308.5,248.7 310,248.8 311.5,248.9 313,248.9 314.5,249 316,249.1 317.5,249.1 319,249.2 320.5,249.2 322,249.3 323.5,249.3 325,249.4 326.5,249.4 328,249.5 329.5,249.5 331,249.6 332.5,249.6 334,249.7 335.5,249.7 337,249.8 338.5,249.8 340,249.8 341.5,249.9 343,249.9 344.5,249.9 346,250 347.5,250 349,250 350.5,250.1 352,250.1"/><path d="M52,250.7 53.5,250.2 55,249.8 56.5,249.4 58,249 59.5,248.4 61,247.7 62.5,246.8 64,245.7 65.5,244.3 67,242.7 68.5,240.8 70,238.7 71.5,236.2 73,233.6 74.5,230.6 76,227.5 77.5,224.2 79,220.7 80.5,217 82,213.3 83.5,209.6 85,205.8 86.5,202 88,198.2 89.5,194.5 91,190.9 92.5,187.5 94,184.2 95.5,181 97,178.1 98.5,175.4 100,173 101.5,170.8 103,168.9 104.5,167.3 106,166 107.5,165.1 109,164.4 110.5,164.1 112,164 113.5,164.3 115,164.9 116.5,165.7 118,166.8 119.5,168.2 121,169.7 122.5,171.5 124,173.4 125.5,175.4 127,177.5 128.5,179.7 130,181.9 131.5,184.1 133,186.4 134.5,188.5 136,190.7 137.5,192.7 139,194.7 140.5,196.6 142,198.4 143.5,200.1 145,201.8 146.5,203.3 148,204.8 149.5,206.1 151,207.4 152.5,208.7 154,209.9 155.5,211 157,212.1 158.5,213.2 160,214.2 161.5,215.2 163,216.2 164.5,217.1 166,218.1 167.5,219 169,219.9 170.5,220.8 172,221.6 173.5,222.4 175,223.3 176.5,224.1 178,224.8 179.5,225.6 181,226.4 182.5,227.1 184,227.8 185.5,228.5 187,229.2 188.5,229.8 190,230.5 191.5,231.1 193,231.7 194.5,232.3 196,232.9 197.5,233.5 199,234 200.5,234.5 202,235 203.5,235.5 205,236 206.5,236.5 208,237 209.5,237.4 211,237.8 212.5,238.3 214,238.7 215.5,239.1 217,239.4 218.5,239.8 220,240.2 221.5,240.5 223,240.8 224.5,241.2 226,241.5 227.5,241.8 229,242.1 230.5,242.4 232,242.7 233.5,242.9 235,243.2 236.5,243.4 238,243.7 239.5,243.9 241,244.1 242.5,244.4 244,244.6 245.5,244.8 247,245 248.5,245.2 250,245.4 251.5,245.5 253,245.7 254.5,245.9 256,246.1 257.5,246.2 259,246.4 260.5,246.5 262,246.7 263.5,246.8 265,246.9 266.5,247.1 268,247.2 269.5,247.3 271,247.4 272.5,247.5 274,247.7 275.5,247.8 277,247.9 278.5,248 280,248.1 281.5,248.2 283,248.2 284.5,248.3 286,248.4 287.5,248.5 289,248.6 290.5,248.7 292,248.7 293.5,248.8 295,248.9 296.5,248.9 298,249 299.5,249.1 301,249.1 302.5,249.2 304,249.2 305.5,249.3 307,249.3 308.5,249.4 310,249.4 311.5,249.5 313,249.5 314.5,249.6 316,249.6 317.5,249.7 319,249.7 320.5,249.8 322,249.8 323.5,249.8 325,249.9 326.5,249.9 328,249.9 329.5,250 331,250 332.5,250 334,250.1 335.5,250.1 337,250.1 338.5,250.1 340,250.2 341.5,250.2 343,250.2 344.5,250.2 346,250.3 347.5,250.3 349,250.3 350.5,250.3 352,250.3"/><path d="M52,250.7 53.5,250.4 55,250.1 56.5,249.8 58,249.4 59.5,249 61,248.4 62.5,247.8 64,246.9 65.5,245.9 67,244.6 68.5,243.2 70,241.5 71.5,239.6 73,237.6 74.5,235.3 76,232.9 77.5,230.3 79,227.6 80.5,224.8 82,222 83.5,219.1 85,216.2 86.5,213.2 88,210.3 89.5,207.5 91,204.7 92.5,202.1 94,199.5 95.5,197.1 97,194.9 98.5,192.8 100,190.9 101.5,189.2 103,187.8 104.5,186.6 106,185.6 107.5,184.8 109,184.3 110.5,184 112,184 113.5,184.2 115,184.7 116.5,185.3 118,186.2 119.5,187.2 121,188.4 122.5,189.8 124,191.2 125.5,192.8 127,194.4 128.5,196.1 130,197.8 131.5,199.5 133,201.2 134.5,202.9 136,204.5 137.5,206.1 139,207.7 140.5,209.1 142,210.5 143.5,211.8 145,213.1 146.5,214.3 148,215.4 149.5,216.4 151,217.5 152.5,218.4 154,219.3 155.5,220.2 157,221.1 158.5,221.9 160,222.7 161.5,223.4 163,224.2 164.5,224.9 166,225.6 167.5,226.3 169,227 170.5,227.7 172,228.4 173.5,229 175,229.6 176.5,230.3 178,230.9 179.5,231.4 181,232 182.5,232.6 184,233.1 185.5,233.7 187,234.2 188.5,234.7 190,235.2 191.5,235.7 193,236.2 194.5,236.6 196,237.1 197.5,237.5 199,237.9 200.5,238.3 202,238.7 203.5,239.1 205,239.5 206.5,239.8 208,240.2 209.5,240.5 211,240.9 212.5,241.2 214,241.5 215.5,241.8 217,242.1 218.5,242.4 220,242.7 221.5,242.9 223,243.2 224.5,243.4 226,243.7 227.5,243.9 229,244.1 230.5,244.4 232,244.6 233.5,244.8 235,245 236.5,245.2 238,245.4 239.5,245.5 241,245.7 242.5,245.9 244,246.1 245.5,246.2 247,246.4 248.5,246.5 250,246.7 251.5,246.8 253,246.9 254.5,247.1 256,247.2 257.5,247.3 259,247.4 260.5,247.5 262,247.7 263.5,247.8 265,247.9 266.5,248 268,248.1 269.5,248.2 271,248.3 272.5,248.3 274,248.4 275.5,248.5 277,248.6 278.5,248.7 280,248.7 281.5,248.8 283,248.9 284.5,248.9 286,249 287.5,249.1 289,249.1 290.5,249.2 292,249.3 293.5,249.3 295,249.4 296.5,249.4 298,249.5 299.5,249.5 301,249.6 302.5,249.6 304,249.6 305.5,249.7 307,249.7 308.5,249.8 310,249.8 311.5,249.8 313,249.9 314.5,249.9 316,249.9 317.5,250 319,250 320.5,250 322,250.1 323.5,250.1 325,250.1 326.5,250.2 328,250.2 329.5,250.2 331,250.2 332.5,250.3 334,250.3 335.5,250.3 337,250.3 338.5,250.3 340,250.4 341.5,250.4 343,250.4 344.5,250.4 346,250.4 347.5,250.4 349,250.5 350.5,250.5 352,250.5"/><path d="M52,250.8 53.5,250.6 55,250.3 56.5,250.1 58,249.8 59.5,249.5 61,249.1 62.5,248.6 64,247.9 65.5,247.2 67,246.2 68.5,245.2 70,243.9 71.5,242.5 73,241 74.5,239.3 76,237.5 77.5,235.6 79,233.6 80.5,231.5 82,229.4 83.5,227.2 85,225 86.5,222.8 88,220.7 89.5,218.5 91,216.5 92.5,214.5 94,212.6 95.5,210.8 97,209.1 98.5,207.6 100,206.2 101.5,204.9 103,203.8 104.5,202.9 106,202.2 107.5,201.6 109,201.2 110.5,201 112,201 113.5,201.2 115,201.5 116.5,202 118,202.6 119.5,203.4 121,204.3 122.5,205.3 124,206.4 125.5,207.5 127,208.8 128.5,210 130,211.3 131.5,212.6 133,213.8 134.5,215.1 136,216.3 137.5,217.5 139,218.6 140.5,219.7 142,220.8 143.5,221.8 145,222.7 146.5,223.6 148,224.4 149.5,225.2 151,226 152.5,226.7 154,227.4 155.5,228 157,228.7 158.5,229.3 160,229.9 161.5,230.4 163,231 164.5,231.5 166,232.1 167.5,232.6 169,233.1 170.5,233.6 172,234.1 173.5,234.6 175,235.1 176.5,235.5 178,236 179.5,236.4 181,236.8 182.5,237.3 184,237.7 185.5,238.1 187,238.5 188.5,238.8 190,239.2 191.5,239.6 193,239.9 194.5,240.3 196,240.6 197.5,240.9 199,241.2 200.5,241.5 202,241.8 203.5,242.1 205,242.4 206.5,242.7 208,242.9 209.5,243.2 211,243.4 212.5,243.7 214,243.9 215.5,244.1 217,244.4 218.5,244.6 220,244.8 221.5,245 223,245.2 224.5,245.4 226,245.5 227.5,245.7 229,245.9 230.5,246 232,246.2 233.5,246.4 235,246.5 236.5,246.7 238,246.8 239.5,246.9 241,247.1 242.5,247.2 244,247.3 245.5,247.4 247,247.5 248.5,247.7 250,247.8 251.5,247.9 253,248 254.5,248.1 256,248.2 257.5,248.3 259,248.3 260.5,248.4 262,248.5 263.5,248.6 265,248.7 266.5,248.7 268,248.8 269.5,248.9 271,248.9 272.5,249 274,249.1 275.5,249.1 277,249.2 278.5,249.3 280,249.3 281.5,249.4 283,249.4 284.5,249.5 286,249.5 287.5,249.6 289,249.6 290.5,249.7 292,249.7 293.5,249.7 295,249.8 296.5,249.8 298,249.9 299.5,249.9 301,249.9 302.5,250 304,250 305.5,250 307,250.1 308.5,250.1 310,250.1 311.5,250.1 313,250.2 314.5,250.2 316,250.2 317.5,250.2 319,250.3 320.5,250.3 322,250.3 323.5,250.3 325,250.3 326.5,250.4 328,250.4 329.5,250.4 331,250.4 332.5,250.4 334,250.5 335.5,250.5 337,250.5 338.5,250.5 340,250.5 341.5,250.5 343,250.6 344.5,250.6 346,250.6 347.5,250.6 349,250.6 350.5,250.6 352,250.6"/><path d="M52,250.9 53.5,250.7 55,250.5 56.5,250.3 58,250.1 59.5,249.9 61,249.6 62.5,249.2 64,248.7 65.5,248.1 67,247.4 68.5,246.6 70,245.7 71.5,244.6 73,243.5 74.5,242.2 76,240.8 77.5,239.4 79,237.9 80.5,236.3 82,234.7 83.5,233.1 85,231.4 86.5,229.8 88,228.2 89.5,226.6 91,225 92.5,223.5 94,222.1 95.5,220.8 97,219.5 98.5,218.3 100,217.3 101.5,216.3 103,215.5 104.5,214.8 106,214.3 107.5,213.9 109,213.6 110.5,213.4 112,213.4 113.5,213.5 115,213.8 116.5,214.1 118,214.6 119.5,215.2 121,215.9 122.5,216.6 124,217.5 125.5,218.3 127,219.2 128.5,220.2 130,221.1 131.5,222.1 133,223.1 134.5,224 136,224.9 137.5,225.8 139,226.7 140.5,227.5 142,228.3 143.5,229 145,229.7 146.5,230.4 148,231 149.5,231.6 151,232.2 152.5,232.7 154,233.2 155.5,233.7 157,234.2 158.5,234.7 160,235.1 161.5,235.5 163,236 164.5,236.4 166,236.8 167.5,237.2 169,237.5 170.5,237.9 172,238.3 173.5,238.7 175,239 176.5,239.4 178,239.7 179.5,240 181,240.4 182.5,240.7 184,241 185.5,241.3 187,241.6 188.5,241.9 190,242.1 191.5,242.4 193,242.7 194.5,242.9 196,243.2 197.5,243.4 199,243.7 200.5,243.9 202,244.1 203.5,244.3 205,244.5 206.5,244.7 208,244.9 209.5,245.1 211,245.3 212.5,245.5 214,245.7 215.5,245.8 217,246 218.5,246.2 220,246.3 221.5,246.5 223,246.6 224.5,246.8 226,246.9 227.5,247 229,247.1 230.5,247.3 232,247.4 233.5,247.5 235,247.6 236.5,247.7 238,247.8 239.5,247.9 241,248 242.5,248.1 244,248.2 245.5,248.3 247,248.4 248.5,248.5 250,248.6 251.5,248.6 253,248.7 254.5,248.8 256,248.9 257.5,248.9 259,249 260.5,249.1 262,249.1 263.5,249.2 265,249.2 266.5,249.3 268,249.4 269.5,249.4 271,249.5 272.5,249.5 274,249.6 275.5,249.6 277,249.6 278.5,249.7 280,249.7 281.5,249.8 283,249.8 284.5,249.8 286,249.9 287.5,249.9 289,250 290.5,250 292,250 293.5,250 295,250.1 296.5,250.1 298,250.1 299.5,250.2 301,250.2 302.5,250.2 304,250.2 305.5,250.3 307,250.3 308.5,250.3 310,250.3 311.5,250.4 313,250.4 314.5,250.4 316,250.4 317.5,250.4 319,250.4 320.5,250.5 322,250.5 323.5,250.5 325,250.5 326.5,250.5 328,250.5 329.5,250.6 331,250.6 332.5,250.6 334,250.6 335.5,250.6 337,250.6 338.5,250.6 340,250.6 341.5,250.7 343,250.7 344.5,250.7 346,250.7 347.5,250.7 349,250.7 350.5,250.7 352,250.7"/><path d="M52,250.9 53.5,250.8 55,250.7 56.5,250.5 58,250.4 59.5,250.2 61,250 62.5,249.8 64,249.4 65.5,249 67,248.6 68.5,248 70,247.4 71.5,246.7 73,245.9 74.5,245 76,244.1 77.5,243.1 79,242.1 80.5,241 82,240 83.5,238.9 85,237.7 86.5,236.6 88,235.5 89.5,234.4 91,233.4 92.5,232.4 94,231.4 95.5,230.5 97,229.6 98.5,228.8 100,228.1 101.5,227.5 103,226.9 104.5,226.5 106,226.1 107.5,225.8 109,225.6 110.5,225.5 112,225.5 113.5,225.6 115,225.8 116.5,226 118,226.3 119.5,226.7 121,227.2 122.5,227.7 124,228.2 125.5,228.8 127,229.5 128.5,230.1 130,230.7 131.5,231.4 133,232.1 134.5,232.7 136,233.3 137.5,233.9 139,234.5 140.5,235.1 142,235.6 143.5,236.1 145,236.6 146.5,237 148,237.4 149.5,237.8 151,238.2 152.5,238.6 154,238.9 155.5,239.3 157,239.6 158.5,239.9 160,240.2 161.5,240.5 163,240.8 164.5,241.1 166,241.4 167.5,241.6 169,241.9 170.5,242.1 172,242.4 173.5,242.6 175,242.9 176.5,243.1 178,243.3 179.5,243.6 181,243.8 182.5,244 184,244.2 185.5,244.4 187,244.6 188.5,244.8 190,245 191.5,245.2 193,245.3 194.5,245.5 196,245.7 197.5,245.9 199,246 200.5,246.2 202,246.3 203.5,246.5 205,246.6 206.5,246.8 208,246.9 209.5,247 211,247.1 212.5,247.3 214,247.4 215.5,247.5 217,247.6 218.5,247.7 220,247.8 221.5,247.9 223,248 224.5,248.1 226,248.2 227.5,248.3 229,248.4 230.5,248.5 232,248.6 233.5,248.6 235,248.7 236.5,248.8 238,248.9 239.5,248.9 241,249 242.5,249.1 244,249.1 245.5,249.2 247,249.2 248.5,249.3 250,249.3 251.5,249.4 253,249.5 254.5,249.5 256,249.6 257.5,249.6 259,249.6 260.5,249.7 262,249.7 263.5,249.8 265,249.8 266.5,249.8 268,249.9 269.5,249.9 271,250 272.5,250 274,250 275.5,250.1 277,250.1 278.5,250.1 280,250.1 281.5,250.2 283,250.2 284.5,250.2 286,250.2 287.5,250.3 289,250.3 290.5,250.3 292,250.3 293.5,250.4 295,250.4 296.5,250.4 298,250.4 299.5,250.4 301,250.5 302.5,250.5 304,250.5 305.5,250.5 307,250.5 308.5,250.5 310,250.5 311.5,250.6 313,250.6 314.5,250.6 316,250.6 317.5,250.6 319,250.6 320.5,250.6 322,250.6 323.5,250.7 325,250.7 326.5,250.7 328,250.7 329.5,250.7 331,250.7 332.5,250.7 334,250.7 335.5,250.7 337,250.7 338.5,250.7 340,250.8 341.5,250.8 343,250.8 344.5,250.8 346,250.8 347.5,250.8 349,250.8 350.5,250.8 352,250.8"/><path d="M52,250.9 53.5,250.9 55,250.8 56.5,250.7 58,250.6 59.5,250.5 61,250.4 62.5,250.2 64,250 65.5,249.7 67,249.4 68.5,249.1 70,248.7 71.5,248.2 73,247.7 74.5,247.2 76,246.6 77.5,245.9 79,245.3 80.5,244.6 82,243.9 83.5,243.2 85,242.5 86.5,241.8 88,241 89.5,240.4 91,239.7 92.5,239 94,238.4 95.5,237.8 97,237.3 98.5,236.8 100,236.3 101.5,235.9 103,235.5 104.5,235.2 106,235 107.5,234.8 109,234.7 110.5,234.6 112,234.6 113.5,234.7 115,234.8 116.5,234.9 118,235.1 119.5,235.4 121,235.7 122.5,236 124,236.4 125.5,236.7 127,237.1 128.5,237.6 130,238 131.5,238.4 133,238.8 134.5,239.2 136,239.6 137.5,240 139,240.4 140.5,240.7 142,241.1 143.5,241.4 145,241.7 146.5,242 148,242.3 149.5,242.5 151,242.8 152.5,243 154,243.2 155.5,243.5 157,243.7 158.5,243.9 160,244.1 161.5,244.3 163,244.4 164.5,244.6 166,244.8 167.5,245 169,245.1 170.5,245.3 172,245.5 173.5,245.6 175,245.8 176.5,245.9 178,246.1 179.5,246.2 181,246.4 182.5,246.5 184,246.6 185.5,246.8 187,246.9 188.5,247 190,247.1 191.5,247.3 193,247.4 194.5,247.5 196,247.6 197.5,247.7 199,247.8 200.5,247.9 202,248 203.5,248.1 205,248.2 206.5,248.3 208,248.4 209.5,248.4 211,248.5 212.5,248.6 214,248.7 215.5,248.7 217,248.8 218.5,248.9 220,249 221.5,249 223,249.1 224.5,249.1 226,249.2 227.5,249.3 229,249.3 230.5,249.4 232,249.4 233.5,249.5 235,249.5 236.5,249.6 238,249.6 239.5,249.7 241,249.7 242.5,249.7 244,249.8 245.5,249.8 247,249.9 248.5,249.9 250,249.9 251.5,250 253,250 254.5,250 256,250.1 257.5,250.1 259,250.1 260.5,250.2 262,250.2 263.5,250.2 265,250.2 266.5,250.3 268,250.3 269.5,250.3 271,250.3 272.5,250.3 274,250.4 275.5,250.4 277,250.4 278.5,250.4 280,250.4 281.5,250.5 283,250.5 284.5,250.5 286,250.5 287.5,250.5 289,250.5 290.5,250.6 292,250.6 293.5,250.6 295,250.6 296.5,250.6 298,250.6 299.5,250.6 301,250.6 302.5,250.7 304,250.7 305.5,250.7 307,250.7 308.5,250.7 310,250.7 311.5,250.7 313,250.7 314.5,250.7 316,250.7 317.5,250.8 319,250.8 320.5,250.8 322,250.8 323.5,250.8 325,250.8 326.5,250.8 328,250.8 329.5,250.8 331,250.8 332.5,250.8 334,250.8 335.5,250.8 337,250.8 338.5,250.8 340,250.8 341.5,250.8 343,250.9 344.5,250.9 346,250.9 347.5,250.9 349,250.9 350.5,250.9 352,250.9"/><path d="M52,251 53.5,250.9 55,250.9 56.5,250.8 58,250.8 59.5,250.7 61,250.7 62.5,250.6 64,250.5 65.5,250.3 67,250.2 68.5,250 70,249.8 71.5,249.5 73,249.3 74.5,249 76,248.6 77.5,248.3 79,248 80.5,247.6 82,247.2 83.5,246.9 85,246.5 86.5,246.1 88,245.7 89.5,245.4 91,245 92.5,244.6 94,244.3 95.5,244 97,243.7 98.5,243.4 100,243.2 101.5,243 103,242.8 104.5,242.6 106,242.5 107.5,242.4 109,242.3 110.5,242.3 112,242.3 113.5,242.3 115,242.4 116.5,242.5 118,242.6 119.5,242.7 121,242.9 122.5,243 124,243.2 125.5,243.4 127,243.7 128.5,243.9 130,244.1 131.5,244.3 133,244.5 134.5,244.8 136,245 137.5,245.2 139,245.4 140.5,245.6 142,245.7 143.5,245.9 145,246.1 146.5,246.2 148,246.4 149.5,246.5 151,246.6 152.5,246.8 154,246.9 155.5,247 157,247.1 158.5,247.2 160,247.3 161.5,247.4 163,247.5 164.5,247.6 166,247.7 167.5,247.8 169,247.9 170.5,248 172,248.1 173.5,248.1 175,248.2 176.5,248.3 178,248.4 179.5,248.5 181,248.5 182.5,248.6 184,248.7 185.5,248.8 187,248.8 188.5,248.9 190,248.9 191.5,249 193,249.1 194.5,249.1 196,249.2 197.5,249.2 199,249.3 200.5,249.4 202,249.4 203.5,249.5 205,249.5 206.5,249.6 208,249.6 209.5,249.6 211,249.7 212.5,249.7 214,249.8 215.5,249.8 217,249.8 218.5,249.9 220,249.9 221.5,250 223,250 224.5,250 226,250 227.5,250.1 229,250.1 230.5,250.1 232,250.2 233.5,250.2 235,250.2 236.5,250.2 238,250.3 239.5,250.3 241,250.3 242.5,250.3 244,250.4 245.5,250.4 247,250.4 248.5,250.4 250,250.4 251.5,250.5 253,250.5 254.5,250.5 256,250.5 257.5,250.5 259,250.5 260.5,250.6 262,250.6 263.5,250.6 265,250.6 266.5,250.6 268,250.6 269.5,250.6 271,250.6 272.5,250.7 274,250.7 275.5,250.7 277,250.7 278.5,250.7 280,250.7 281.5,250.7 283,250.7 284.5,250.7 286,250.7 287.5,250.7 289,250.8 290.5,250.8 292,250.8 293.5,250.8 295,250.8 296.5,250.8 298,250.8 299.5,250.8 301,250.8 302.5,250.8 304,250.8 305.5,250.8 307,250.8 308.5,250.8 310,250.8 311.5,250.8 313,250.9 314.5,250.9 316,250.9 317.5,250.9 319,250.9 320.5,250.9 322,250.9 323.5,250.9 325,250.9 326.5,250.9 328,250.9 329.5,250.9 331,250.9 332.5,250.9 334,250.9 335.5,250.9 337,250.9 338.5,250.9 340,250.9 341.5,250.9 343,250.9 344.5,250.9 346,250.9 347.5,250.9 349,250.9 350.5,250.9 352,250.9"/><path d="M52,251 53.5,251 55,250.9 56.5,250.9 58,250.9 59.5,250.9 61,250.8 62.5,250.8 64,250.8 65.5,250.7 67,250.6 68.5,250.5 70,250.4 71.5,250.3 73,250.2 74.5,250.1 76,249.9 77.5,249.8 79,249.6 80.5,249.4 82,249.3 83.5,249.1 85,248.9 86.5,248.7 88,248.6 89.5,248.4 91,248.2 92.5,248.1 94,247.9 95.5,247.8 97,247.6 98.5,247.5 100,247.4 101.5,247.3 103,247.2 104.5,247.2 106,247.1 107.5,247 109,247 110.5,247 112,247 113.5,247 115,247 116.5,247.1 118,247.1 119.5,247.2 121,247.3 122.5,247.3 124,247.4 125.5,247.5 127,247.6 128.5,247.7 130,247.8 131.5,247.9 133,248 134.5,248.1 136,248.2 137.5,248.3 139,248.4 140.5,248.5 142,248.6 143.5,248.7 145,248.7 146.5,248.8 148,248.9 149.5,248.9 151,249 152.5,249.1 154,249.1 155.5,249.2 157,249.2 158.5,249.3 160,249.3 161.5,249.4 163,249.4 164.5,249.4 166,249.5 167.5,249.5 169,249.6 170.5,249.6 172,249.6 173.5,249.7 175,249.7 176.5,249.8 178,249.8 179.5,249.8 181,249.9 182.5,249.9 184,249.9 185.5,250 187,250 188.5,250 190,250.1 191.5,250.1 193,250.1 194.5,250.1 196,250.2 197.5,250.2 199,250.2 200.5,250.2 202,250.3 203.5,250.3 205,250.3 206.5,250.3 208,250.4 209.5,250.4 211,250.4 212.5,250.4 214,250.4 215.5,250.5 217,250.5 218.5,250.5 220,250.5 221.5,250.5 223,250.5 224.5,250.5 226,250.6 227.5,250.6 229,250.6 230.5,250.6 232,250.6 233.5,250.6 235,250.6 236.5,250.7 238,250.7 239.5,250.7 241,250.7 242.5,250.7 244,250.7 245.5,250.7 247,250.7 248.5,250.7 250,250.7 251.5,250.7 253,250.8 254.5,250.8 256,250.8 257.5,250.8 259,250.8 260.5,250.8 262,250.8 263.5,250.8 265,250.8 266.5,250.8 268,250.8 269.5,250.8 271,250.8 272.5,250.8 274,250.8 275.5,250.9 277,250.9 278.5,250.9 280,250.9 281.5,250.9 283,250.9 284.5,250.9 286,250.9 287.5,250.9 289,250.9 290.5,250.9 292,250.9 293.5,250.9 295,250.9 296.5,250.9 298,250.9 299.5,250.9 301,250.9 302.5,250.9 304,250.9 305.5,250.9 307,250.9 308.5,250.9 310,250.9 311.5,250.9 313,250.9 314.5,250.9 316,250.9 317.5,250.9 319,250.9 320.5,250.9 322,250.9 323.5,250.9 325,250.9 326.5,250.9 328,251 329.5,251 331,251 332.5,251 334,251 335.5,251 337,251 338.5,251 340,251 341.5,251 343,251 344.5,251 346,251 347.5,251 349,251 350.5,251 352,251"/></g><g fill="none" stroke="#d2e8f5" stroke-width="3.6" stroke-linejoin="round"><path d="M435,216.6 436,216.8 437,217 438,217.2 439,217.4 440,217.5 441,217.5 442,217.6 443,217.6 444,217.5 445,217.4 446,217.2 447,217 448,216.7 449,216.4 450,216 451,215.6 452,215.1 453,214.5 454,213.9 455,213.3 456,212.6 457,211.9 458,211.3 459,210.5 460,209.7 461,208.7 462,207.5 463,206.1 464,204.5 465,202.7 466,201 467,199.2 468,197.5 469,195.9 470,194.3 471,192.6 472,191 473,189.4 474,187.7 475,185.9 476,184 477,181.9 478,179.7 479,177.8 480,176.3 481,174.9 482,173.6 483,172.4 484,171.2 485,170.1 486,169 487,167.9 488,166.7 489,165.6 490,164.5 491,163.5 492,162.6 493,161.8 494,161.1 495,160.5 496,160 497,159.5 498,159.1 499,158.8 500,158.5 501,158.3 502,158.1 503,157.9 504,157.7 505,157.4 506,157 507,156.6 508,156.1 509,155.4 510,154.4 511,152.8 512,150.9 513,149.5 514,148.1 515,147 516,146.3 517,145.8 518,145.4 519,145 520,144.3 521,143.4 522,142.2 523,140.8 524,138.9 525,136.2 526,133.6 527,131 528,128 529,123.5 530,117.8 531,112.3 532,108.1 533,104.8 534,101.8 535,98.6 536,94.7 537,90.2 538,85.6 539,81.1 540,76.7 541,72.4 542,68.3 543,64.9 544,61.9 545,59 546,56.4 547,54.2 548,52.4 549,51.2 550,50.2 551,49.2 552,48.3 553,47.5 554,46.7 555,46.1 556,45.6 557,45.2 558,44.9 559,44.8 560,44.8 561,44.9 562,45.2 563,45.4 564,45.8 565,46.3 566,46.8 567,47.3 568,47.9 569,48.5 570,49.2 571,50.2 572,51.5 573,53.1 574,54.8 575,56.6 576,58.6 577,60.9 578,63.4 579,66.2 580,69.2 581,72.6 582,76.3 583,80.2 584,84.2 585,88.4 586,93.1 587,98.7 588,106.3 589,114.2 590,121 591,127.6 592,134.8 593,143.1 594,151.5 595,159.6 596,167.4 597,175.1 598,183 599,190.6 600,197.9 601,205.2 602,211.7 603,216.4 604,220.3 605,223.7 606,226.6 607,229.1 608,231.2 609,233.1 610,234.9 611,236.5 612,238 613,239.2 614,240.3 615,241.1 616,241.7 617,242.4 618,242.9 619,243.4 620,243.9 621,244.4 622,244.8 623,245.2 624,245.5 625,245.8 626,246.1 627,246.4 628,246.6 629,246.9 630,247.1 631,247.3 632,247.4 633,247.6 634,247.8 635,247.9 636,248.1 637,248.2 638,248.3 639,248.5 640,248.6 641,248.7 642,248.9 643,249 644,249.1 645,249.3 646,249.4 647,249.5 648,249.7 649,249.8 650,249.9 651,250 652,250.2 653,250.3 654,250.4 655,250.5 656,250.6 657,250.7 658,250.8 659,250.8 660,250.9 661,251 662,251 663,251.1 664,251.1 665,251.2 666,251.2 667,251.3 668,251.3 669,251.4 670,251.4 671,251.5 672,251.5 673,251.6 674,251.6 675,251.7 676,251.7 677,251.7 678,251.8 679,251.8 680,251.9 681,251.9 682,252 683,252 684,252 685,252.1 686,252.1 687,252.2 688,252.2 689,252.2 690,252.3 691,252.3 692,252.3 693,252.4 694,252.4 695,252.4 696,252.5 697,252.5 698,252.5 699,252.6 700,252.6 701,252.6 702,252.6 703,252.7 704,252.7 705,252.7 706,252.7 707,252.8 708,252.8 709,252.8 710,252.8 711,252.8 712,252.9 713,252.9 714,252.9 715,252.9 716,252.9 717,252.9 718,252.9 719,253 720,253 721,253 722,253 723,253 724,253 725,253 726,253 727,253 728,253"/><path d="M435,216.4 436,216.6 437,216.8 438,217 439,217.1 440,217.2 441,217.3 442,217.3 443,217.4 444,217.3 445,217.2 446,217 447,216.8 448,216.5 449,216.2 450,215.8 451,215.4 452,214.9 453,214.3 454,213.7 455,213.1 456,212.5 457,211.8 458,211.2 459,210.4 460,209.6 461,208.7 462,207.6 463,206.2 464,204.7 465,203.1 466,201.4 467,199.7 468,198.1 469,196.6 470,195.1 471,193.6 472,192 473,190.5 474,188.9 475,187.2 476,185.4 477,183.4 478,181.4 479,179.6 480,178.1 481,176.8 482,175.6 483,174.5 484,173.4 485,172.3 486,171.3 487,170.2 488,169.1 489,168.1 490,167 491,166.1 492,165.2 493,164.5 494,163.9 495,163.3 496,162.9 497,162.4 498,162 499,161.7 500,161.5 501,161.3 502,161.1 503,160.9 504,160.8 505,160.5 506,160.2 507,159.8 508,159.3 509,158.7 510,157.8 511,156.2 512,154.5 513,153.1 514,151.9 515,150.8 516,150.2 517,149.7 518,149.4 519,148.9 520,148.3 521,147.5 522,146.4 523,145 524,143.2 525,140.6 526,138.1 527,135.7 528,132.8 529,128.4 530,122.9 531,117.7 532,113.7 533,110.5 534,107.6 535,104.5 536,100.7 537,96.4 538,91.9 539,87.6 540,83.5 541,79.3 542,75.4 543,72 544,69.1 545,66.4 546,63.8 547,61.6 548,59.9 549,58.7 550,57.7 551,56.7 552,55.8 553,54.9 554,54.1 555,53.5 556,52.9 557,52.5 558,52.1 559,52 560,51.9 561,52 562,52.1 563,52.3 564,52.6 565,53 566,53.4 567,53.9 568,54.4 569,54.9 570,55.5 571,56.4 572,57.5 573,59 574,60.5 575,62.2 576,64 577,66.1 578,68.5 579,71.1 580,73.9 581,77.1 582,80.5 583,84.2 584,87.9 585,91.9 586,96.4 587,101.6 588,108.8 589,116.3 590,122.7 591,129 592,135.8 593,143.6 594,151.7 595,159.3 596,166.7 597,174.1 598,181.6 599,188.9 600,195.8 601,202.8 602,209 603,213.5 604,217.3 605,220.5 606,223.3 607,225.7 608,227.7 609,229.6 610,231.3 611,232.9 612,234.3 613,235.5 614,236.6 615,237.4 616,238 617,238.7 618,239.3 619,239.8 620,240.3 621,240.8 622,241.2 623,241.7 624,242 625,242.4 626,242.7 627,243.1 628,243.3 629,243.6 630,243.9 631,244.1 632,244.4 633,244.6 634,244.8 635,245 636,245.2 637,245.4 638,245.5 639,245.7 640,245.9 641,246.1 642,246.3 643,246.5 644,246.7 645,246.9 646,247.1 647,247.3 648,247.5 649,247.7 650,247.8 651,248 652,248.2 653,248.4 654,248.5 655,248.7 656,248.8 657,249 658,249.1 659,249.3 660,249.4 661,249.5 662,249.6 663,249.7 664,249.8 665,249.9 666,250 667,250.1 668,250.2 669,250.3 670,250.4 671,250.5 672,250.6 673,250.7 674,250.7 675,250.8 676,250.9 677,251 678,251.1 679,251.2 680,251.3 681,251.4 682,251.4 683,251.5 684,251.6 685,251.6 686,251.7 687,251.8 688,251.8 689,251.9 690,252 691,252 692,252.1 693,252.1 694,252.2 695,252.2 696,252.3 697,252.3 698,252.4 699,252.4 700,252.4 701,252.5 702,252.5 703,252.5 704,252.6 705,252.6 706,252.6 707,252.7 708,252.7 709,252.7 710,252.8 711,252.8 712,252.8 713,252.8 714,252.8 715,252.9 716,252.9 717,252.9 718,252.9 719,252.9 720,252.9 721,253 722,253 723,253 724,253 725,253 726,253 727,253 728,253"/><path d="M435,216 436,216.1 437,216.4 438,216.5 439,216.7 440,216.8 441,216.8 442,216.9 443,216.9 444,216.8 445,216.7 446,216.5 447,216.3 448,216 449,215.7 450,215.4 451,215 452,214.5 453,213.9 454,213.4 455,212.8 456,212.2 457,211.6 458,211 459,210.3 460,209.6 461,208.7 462,207.7 463,206.5 464,205.2 465,203.8 466,202.3 467,200.8 468,199.5 469,198.1 470,196.8 471,195.5 472,194.2 473,192.8 474,191.4 475,190 476,188.4 477,186.7 478,184.9 479,183.3 480,182 481,180.9 482,179.8 483,178.8 484,177.9 485,177 486,176.1 487,175.1 488,174.2 489,173.3 490,172.4 491,171.6 492,170.8 493,170.2 494,169.7 495,169.3 496,168.8 497,168.5 498,168.2 499,167.9 500,167.7 501,167.6 502,167.5 503,167.4 504,167.2 505,167 506,166.8 507,166.5 508,166.1 509,165.5 510,164.8 511,163.4 512,161.9 513,160.7 514,159.7 515,158.8 516,158.3 517,157.9 518,157.6 519,157.2 520,156.7 521,156 522,155 523,153.8 524,152.2 525,149.9 526,147.7 527,145.4 528,142.7 529,138.8 530,133.8 531,129 532,125.3 533,122.4 534,119.7 535,116.9 536,113.4 537,109.5 538,105.4 539,101.4 540,97.6 541,93.7 542,90.1 543,87 544,84.3 545,81.8 546,79.4 547,77.3 548,75.6 549,74.4 550,73.4 551,72.4 552,71.4 553,70.5 554,69.7 555,68.9 556,68.3 557,67.7 558,67.3 559,67 560,66.8 561,66.7 562,66.7 563,66.8 564,66.9 565,67.1 566,67.4 567,67.6 568,68 569,68.3 570,68.7 571,69.3 572,70.2 573,71.3 574,72.6 575,74 576,75.4 577,77.2 578,79.2 579,81.4 580,83.8 581,86.5 582,89.4 583,92.5 584,95.8 585,99.2 586,103.1 587,107.7 588,114 589,120.6 590,126.3 591,131.8 592,137.8 593,144.8 594,151.9 595,158.7 596,165.4 597,172 598,178.7 599,185.3 600,191.5 601,197.8 602,203.4 603,207.5 604,210.9 605,213.9 606,216.4 607,218.6 608,220.4 609,222.2 610,223.8 611,225.3 612,226.6 613,227.8 614,228.8 615,229.6 616,230.3 617,230.9 618,231.6 619,232.2 620,232.7 621,233.3 622,233.8 623,234.3 624,234.8 625,235.2 626,235.6 627,236.1 628,236.4 629,236.8 630,237.2 631,237.5 632,237.9 633,238.2 634,238.5 635,238.8 636,239.1 637,239.4 638,239.7 639,239.9 640,240.2 641,240.6 642,240.9 643,241.2 644,241.5 645,241.9 646,242.2 647,242.5 648,242.9 649,243.2 650,243.5 651,243.8 652,244.1 653,244.4 654,244.7 655,244.9 656,245.2 657,245.5 658,245.7 659,245.9 660,246.2 661,246.4 662,246.6 663,246.8 664,247 665,247.2 666,247.4 667,247.6 668,247.8 669,248 670,248.2 671,248.4 672,248.6 673,248.7 674,248.9 675,249.1 676,249.3 677,249.5 678,249.7 679,249.8 680,250 681,250.2 682,250.3 683,250.5 684,250.6 685,250.7 686,250.8 687,251 688,251.1 689,251.2 690,251.3 691,251.4 692,251.5 693,251.6 694,251.7 695,251.7 696,251.8 697,251.9 698,252 699,252 700,252.1 701,252.2 702,252.2 703,252.3 704,252.3 705,252.4 706,252.4 707,252.5 708,252.5 709,252.6 710,252.6 711,252.6 712,252.7 713,252.7 714,252.7 715,252.8 716,252.8 717,252.8 718,252.9 719,252.9 720,252.9 721,252.9 722,252.9 723,253 724,253 725,253 726,253 727,253 728,253"/><path d="M435,215.6 436,215.7 437,215.9 438,216.1 439,216.3 440,216.3 441,216.4 442,216.4 443,216.4 444,216.4 445,216.3 446,216.1 447,215.9 448,215.6 449,215.3 450,215 451,214.6 452,214.1 453,213.6 454,213 455,212.5 456,211.9 457,211.3 458,210.8 459,210.2 460,209.5 461,208.7 462,207.8 463,206.8 464,205.6 465,204.4 466,203.1 467,201.9 468,200.7 469,199.5 470,198.4 471,197.3 472,196.2 473,195 474,193.8 475,192.5 476,191.2 477,189.6 478,188.1 479,186.7 480,185.6 481,184.6 482,183.7 483,182.8 484,182 485,181.2 486,180.5 487,179.7 488,178.9 489,178.1 490,177.3 491,176.6 492,176 493,175.5 494,175.1 495,174.7 496,174.4 497,174.1 498,173.9 499,173.7 500,173.5 501,173.4 502,173.4 503,173.3 504,173.2 505,173.1 506,172.9 507,172.6 508,172.3 509,171.9 510,171.3 511,170.1 512,168.8 513,167.8 514,166.9 515,166.2 516,165.7 517,165.4 518,165.2 519,164.9 520,164.5 521,163.9 522,163 523,161.9 524,160.5 525,158.5 526,156.5 527,154.4 528,152 529,148.3 530,143.8 531,139.4 532,136.1 533,133.4 534,130.9 535,128.3 536,125.1 537,121.5 538,117.7 539,114.1 540,110.6 541,107 542,103.7 543,100.9 544,98.4 545,96 546,93.7 547,91.8 548,90.2 549,89 550,87.9 551,86.9 552,85.9 553,84.9 554,84 555,83.2 556,82.4 557,81.8 558,81.3 559,80.9 560,80.6 561,80.4 562,80.2 563,80.2 564,80.1 565,80.2 566,80.2 567,80.4 568,80.5 569,80.6 570,80.8 571,81.2 572,81.9 573,82.7 574,83.7 575,84.8 576,86 577,87.4 578,89 579,90.8 580,92.8 581,95.1 582,97.6 583,100.2 584,103 585,106 586,109.3 587,113.3 588,118.8 589,124.6 590,129.6 591,134.4 592,139.7 593,145.8 594,152.2 595,158.2 596,164.1 597,170 598,176.1 599,181.9 600,187.6 601,193.2 602,198.2 603,201.9 604,205 605,207.7 606,210 607,212 608,213.7 609,215.3 610,216.8 611,218.2 612,219.5 613,220.6 614,221.6 615,222.4 616,223.1 617,223.8 618,224.5 619,225.1 620,225.7 621,226.3 622,226.9 623,227.5 624,228.1 625,228.6 626,229.1 627,229.6 628,230.1 629,230.6 630,231 631,231.5 632,231.9 633,232.4 634,232.8 635,233.1 636,233.5 637,233.9 638,234.2 639,234.6 640,235 641,235.4 642,235.9 643,236.3 644,236.8 645,237.3 646,237.7 647,238.2 648,238.6 649,239 650,239.5 651,239.9 652,240.3 653,240.7 654,241.1 655,241.5 656,241.8 657,242.2 658,242.5 659,242.9 660,243.2 661,243.5 662,243.8 663,244.1 664,244.4 665,244.7 666,245 667,245.3 668,245.6 669,245.9 670,246.2 671,246.4 672,246.7 673,247 674,247.2 675,247.5 676,247.8 677,248.1 678,248.3 679,248.6 680,248.8 681,249.1 682,249.3 683,249.5 684,249.7 685,249.9 686,250 687,250.2 688,250.4 689,250.5 690,250.7 691,250.8 692,250.9 693,251.1 694,251.2 695,251.3 696,251.4 697,251.5 698,251.6 699,251.7 700,251.8 701,251.9 702,252 703,252 704,252.1 705,252.2 706,252.2 707,252.3 708,252.3 709,252.4 710,252.5 711,252.5 712,252.6 713,252.6 714,252.7 715,252.7 716,252.7 717,252.8 718,252.8 719,252.8 720,252.9 721,252.9 722,252.9 723,253 724,253 725,253 726,253 727,253 728,253"/><path d="M435,215.2 436,215.3 437,215.5 438,215.7 439,215.8 440,215.9 441,216 442,216 443,216 444,215.9 445,215.8 446,215.6 447,215.4 448,215.1 449,214.8 450,214.5 451,214.1 452,213.7 453,213.2 454,212.7 455,212.2 456,211.6 457,211.1 458,210.6 459,210 460,209.4 461,208.7 462,208 463,207.1 464,206.1 465,205 466,204 467,202.9 468,202 469,201 470,200.1 471,199.2 472,198.2 473,197.2 474,196.2 475,195.2 476,194 477,192.7 478,191.4 479,190.2 480,189.3 481,188.5 482,187.7 483,187 484,186.4 485,185.7 486,185.1 487,184.4 488,183.8 489,183.1 490,182.5 491,181.9 492,181.4 493,181 494,180.7 495,180.4 496,180.1 497,179.9 498,179.8 499,179.6 500,179.5 501,179.5 502,179.5 503,179.5 504,179.4 505,179.3 506,179.2 507,179 508,178.8 509,178.5 510,178 511,177 512,176 513,175.1 514,174.4 515,173.8 516,173.5 517,173.3 518,173.1 519,172.9 520,172.6 521,172 522,171.3 523,170.4 524,169.2 525,167.4 526,165.6 527,163.8 528,161.6 529,158.3 530,154.3 531,150.3 532,147.3 533,144.9 534,142.6 535,140.2 536,137.3 537,134 538,130.6 539,127.3 540,124.1 541,120.9 542,117.9 543,115.3 544,113 545,110.8 546,108.7 547,106.9 548,105.3 549,104.1 550,103 551,102 552,100.9 553,99.9 554,98.9 555,98 556,97.2 557,96.5 558,95.8 559,95.3 560,94.9 561,94.6 562,94.3 563,94.1 564,93.9 565,93.8 566,93.7 567,93.6 568,93.5 569,93.5 570,93.5 571,93.7 572,94.1 573,94.6 574,95.3 575,96.1 576,96.9 577,98 578,99.3 579,100.7 580,102.3 581,104.1 582,106.1 583,108.3 584,110.6 585,113 586,115.8 587,119.2 588,123.8 589,128.8 590,133 591,137.2 592,141.7 593,146.9 594,152.4 595,157.7 596,162.8 597,168 598,173.3 599,178.5 600,183.4 601,188.4 602,192.8 603,196.1 604,198.8 605,201.2 606,203.3 607,205.1 608,206.7 609,208.2 610,209.6 611,210.9 612,212.1 613,213.2 614,214.1 615,214.9 616,215.6 617,216.4 618,217.1 619,217.8 620,218.4 621,219.1 622,219.8 623,220.4 624,221.1 625,221.7 626,222.3 627,222.9 628,223.5 629,224 630,224.6 631,225.2 632,225.7 633,226.2 634,226.7 635,227.2 636,227.7 637,228.1 638,228.6 639,229.1 640,229.6 641,230.1 642,230.7 643,231.3 644,231.9 645,232.4 646,233 647,233.6 648,234.2 649,234.7 650,235.3 651,235.8 652,236.3 653,236.8 654,237.3 655,237.8 656,238.3 657,238.8 658,239.3 659,239.7 660,240.1 661,240.5 662,241 663,241.4 664,241.8 665,242.2 666,242.5 667,242.9 668,243.3 669,243.7 670,244 671,244.4 672,244.8 673,245.1 674,245.5 675,245.9 676,246.2 677,246.6 678,246.9 679,247.3 680,247.6 681,247.9 682,248.2 683,248.5 684,248.8 685,249 686,249.2 687,249.4 688,249.6 689,249.8 690,250 691,250.2 692,250.4 693,250.5 694,250.7 695,250.8 696,251 697,251.1 698,251.3 699,251.4 700,251.5 701,251.6 702,251.7 703,251.8 704,251.9 705,251.9 706,252 707,252.1 708,252.2 709,252.2 710,252.3 711,252.4 712,252.4 713,252.5 714,252.6 715,252.6 716,252.7 717,252.7 718,252.8 719,252.8 720,252.8 721,252.9 722,252.9 723,252.9 724,253 725,253 726,253 727,253 728,253"/><path d="M435,214.7 436,214.8 437,215 438,215.2 439,215.3 440,215.4 441,215.4 442,215.5 443,215.5 444,215.4 445,215.3 446,215.1 447,214.9 448,214.6 449,214.3 450,214 451,213.7 452,213.3 453,212.8 454,212.3 455,211.8 456,211.3 457,210.8 458,210.4 459,209.9 460,209.3 461,208.8 462,208.1 463,207.4 464,206.6 465,205.8 466,205 467,204.2 468,203.4 469,202.7 470,202 471,201.3 472,200.5 473,199.8 474,199 475,198.2 476,197.3 477,196.2 478,195.2 479,194.3 480,193.5 481,192.9 482,192.3 483,191.8 484,191.2 485,190.8 486,190.3 487,189.8 488,189.3 489,188.8 490,188.3 491,187.9 492,187.5 493,187.2 494,187 495,186.8 496,186.7 497,186.5 498,186.4 499,186.4 500,186.4 501,186.4 502,186.4 503,186.4 504,186.5 505,186.4 506,186.4 507,186.3 508,186.2 509,186 510,185.6 511,184.9 512,184.1 513,183.5 514,182.9 515,182.5 516,182.3 517,182.2 518,182.1 519,181.9 520,181.7 521,181.3 522,180.7 523,180 524,179 525,177.6 526,176 527,174.4 528,172.4 529,169.6 530,166.1 531,162.7 532,160 533,157.8 534,155.8 535,153.6 536,151.1 537,148.2 538,145.2 539,142.3 540,139.5 541,136.6 542,134 543,131.6 544,129.5 545,127.5 546,125.6 547,123.9 548,122.4 549,121.3 550,120.2 551,119.1 552,117.9 553,116.8 554,115.8 555,114.8 556,113.9 557,113.1 558,112.3 559,111.7 560,111.1 561,110.6 562,110.2 563,109.8 564,109.5 565,109.2 566,108.9 567,108.6 568,108.3 569,108.1 570,107.8 571,107.7 572,107.9 573,108.1 574,108.4 575,108.9 576,109.4 577,110 578,110.9 579,111.9 580,113 581,114.3 582,115.7 583,117.4 584,119.1 585,121 586,123.1 587,125.8 588,129.5 589,133.5 590,136.9 591,140.3 592,143.9 593,148.2 594,152.7 595,157 596,161.3 597,165.7 598,170.2 599,174.5 600,178.7 601,182.9 602,186.7 603,189.5 604,191.9 605,194 606,195.8 607,197.4 608,198.8 609,200.1 610,201.4 611,202.6 612,203.7 613,204.8 614,205.7 615,206.5 616,207.2 617,207.9 618,208.7 619,209.4 620,210.2 621,210.9 622,211.7 623,212.4 624,213.1 625,213.9 626,214.6 627,215.3 628,216 629,216.6 630,217.3 631,218 632,218.7 633,219.3 634,219.9 635,220.5 636,221.1 637,221.6 638,222.2 639,222.8 640,223.4 641,224.1 642,224.8 643,225.5 644,226.3 645,227 646,227.7 647,228.5 648,229.2 649,229.9 650,230.5 651,231.2 652,231.8 653,232.5 654,233.1 655,233.8 656,234.4 657,235 658,235.5 659,236.1 660,236.6 661,237.2 662,237.7 663,238.2 664,238.7 665,239.2 666,239.7 667,240.2 668,240.7 669,241.2 670,241.7 671,242.1 672,242.6 673,243 674,243.5 675,244 676,244.5 677,244.9 678,245.4 679,245.8 680,246.3 681,246.7 682,247 683,247.4 684,247.7 685,248 686,248.3 687,248.5 688,248.8 689,249 690,249.3 691,249.5 692,249.7 693,249.9 694,250.1 695,250.3 696,250.5 697,250.7 698,250.9 699,251 700,251.1 701,251.3 702,251.4 703,251.5 704,251.6 705,251.7 706,251.8 707,251.9 708,252 709,252 710,252.1 711,252.2 712,252.3 713,252.4 714,252.4 715,252.5 716,252.6 717,252.6 718,252.7 719,252.8 720,252.8 721,252.8 722,252.9 723,252.9 724,252.9 725,253 726,253 727,253 728,253"/><path d="M435,214.2 436,214.4 437,214.6 438,214.7 439,214.8 440,214.9 441,215 442,215 443,215 444,214.9 445,214.8 446,214.6 447,214.4 448,214.2 449,213.9 450,213.6 451,213.2 452,212.8 453,212.4 454,211.9 455,211.5 456,211 457,210.6 458,210.1 459,209.7 460,209.2 461,208.8 462,208.3 463,207.7 464,207.1 465,206.5 466,205.9 467,205.3 468,204.8 469,204.3 470,203.8 471,203.3 472,202.8 473,202.2 474,201.7 475,201 476,200.4 477,199.6 478,198.8 479,198.1 480,197.6 481,197.1 482,196.7 483,196.3 484,195.9 485,195.6 486,195.2 487,194.9 488,194.5 489,194.2 490,193.9 491,193.6 492,193.4 493,193.2 494,193 495,193 496,192.9 497,192.8 498,192.8 499,192.8 500,192.9 501,192.9 502,193 503,193.1 504,193.2 505,193.2 506,193.2 507,193.2 508,193.2 509,193.1 510,192.9 511,192.4 512,191.8 513,191.4 514,191 515,190.8 516,190.7 517,190.6 518,190.6 519,190.6 520,190.4 521,190.2 522,189.7 523,189.2 524,188.4 525,187.2 526,185.9 527,184.5 528,182.8 529,180.4 530,177.4 531,174.4 532,172.1 533,170.2 534,168.4 535,166.5 536,164.2 537,161.7 538,159.1 539,156.6 540,154.1 541,151.6 542,149.3 543,147.2 544,145.3 545,143.5 546,141.8 547,140.2 548,138.8 549,137.6 550,136.5 551,135.4 552,134.2 553,133.1 554,131.9 555,130.8 556,129.8 557,128.9 558,128.1 559,127.3 560,126.6 561,126 562,125.4 563,124.9 564,124.3 565,123.8 566,123.4 567,122.9 568,122.4 569,122 570,121.5 571,121.2 572,121 573,120.9 574,121 575,121.1 576,121.2 577,121.5 578,122 579,122.5 580,123.2 581,124 582,125 583,126.1 584,127.2 585,128.6 586,130.1 587,132.1 588,135 589,138 590,140.6 591,143.2 592,146.1 593,149.4 594,152.9 595,156.4 596,159.9 597,163.5 598,167.2 599,170.8 600,174.3 601,177.7 602,180.9 603,183.2 604,185.2 605,187 606,188.6 607,190 608,191.2 609,192.5 610,193.6 611,194.7 612,195.7 613,196.7 614,197.6 615,198.4 616,199.1 617,199.9 618,200.7 619,201.5 620,202.3 621,203.1 622,203.9 623,204.8 624,205.6 625,206.4 626,207.2 627,208 628,208.8 629,209.6 630,210.4 631,211.2 632,211.9 633,212.7 634,213.4 635,214.1 636,214.7 637,215.4 638,216.1 639,216.8 640,217.5 641,218.3 642,219.2 643,220 644,220.9 645,221.8 646,222.7 647,223.5 648,224.4 649,225.2 650,226 651,226.8 652,227.6 653,228.3 654,229.1 655,229.8 656,230.6 657,231.3 658,232 659,232.6 660,233.3 661,234 662,234.6 663,235.2 664,235.8 665,236.4 666,237 667,237.6 668,238.2 669,238.8 670,239.4 671,239.9 672,240.5 673,241.1 674,241.6 675,242.2 676,242.8 677,243.3 678,243.9 679,244.4 680,244.9 681,245.4 682,245.9 683,246.3 684,246.7 685,247 686,247.4 687,247.7 688,248 689,248.3 690,248.6 691,248.8 692,249.1 693,249.4 694,249.6 695,249.8 696,250.1 697,250.3 698,250.5 699,250.6 700,250.8 701,251 702,251.1 703,251.2 704,251.3 705,251.4 706,251.5 707,251.7 708,251.8 709,251.9 710,252 711,252.1 712,252.2 713,252.3 714,252.3 715,252.4 716,252.5 717,252.6 718,252.6 719,252.7 720,252.8 721,252.8 722,252.9 723,252.9 724,252.9 725,253 726,253 727,253 728,253"/><path d="M435,213.8 436,213.9 437,214.1 438,214.3 439,214.4 440,214.4 441,214.5 442,214.5 443,214.5 444,214.5 445,214.4 446,214.2 447,214 448,213.7 449,213.4 450,213.1 451,212.8 452,212.4 453,212 454,211.6 455,211.1 456,210.7 457,210.3 458,209.9 459,209.5 460,209.2 461,208.8 462,208.4 463,208 464,207.6 465,207.2 466,206.8 467,206.4 468,206.1 469,205.8 470,205.5 471,205.2 472,204.9 473,204.6 474,204.2 475,203.8 476,203.3 477,202.8 478,202.2 479,201.8 480,201.4 481,201.1 482,200.8 483,200.6 484,200.4 485,200.2 486,200 487,199.8 488,199.6 489,199.4 490,199.2 491,199 492,198.9 493,198.8 494,198.8 495,198.8 496,198.8 497,198.9 498,198.9 499,199 500,199.1 501,199.2 502,199.3 503,199.5 504,199.6 505,199.7 506,199.8 507,199.8 508,199.9 509,199.9 510,199.9 511,199.6 512,199.2 513,199 514,198.8 515,198.7 516,198.7 517,198.7 518,198.8 519,198.8 520,198.8 521,198.6 522,198.3 523,197.9 524,197.3 525,196.4 526,195.3 527,194.2 528,192.7 529,190.6 530,188.1 531,185.7 532,183.7 533,182 534,180.4 535,178.7 536,176.8 537,174.6 538,172.4 539,170.2 540,168.1 541,165.9 542,163.9 543,162.1 544,160.4 545,158.7 546,157.2 547,155.7 548,154.4 549,153.2 550,152.1 551,150.9 552,149.7 553,148.5 554,147.3 555,146.1 556,145 557,144 558,143.1 559,142.2 560,141.4 561,140.6 562,139.9 563,139.2 564,138.5 565,137.9 566,137.2 567,136.5 568,135.9 569,135.2 570,134.6 571,134 572,133.6 573,133.2 574,132.9 575,132.7 576,132.5 577,132.5 578,132.5 579,132.7 580,132.9 581,133.3 582,133.7 583,134.3 584,135 585,135.8 586,136.8 587,138.1 588,140.1 589,142.3 590,144.2 591,146 592,148.1 593,150.5 594,153.2 595,155.9 596,158.6 597,161.4 598,164.3 599,167.2 600,170 601,172.8 602,175.3 603,177.2 604,178.9 605,180.4 606,181.7 607,182.9 608,184 609,185.1 610,186.2 611,187.2 612,188.1 613,189 614,189.9 615,190.7 616,191.4 617,192.2 618,193.1 619,193.9 620,194.8 621,195.7 622,196.6 623,197.5 624,198.4 625,199.3 626,200.2 627,201.1 628,202 629,202.8 630,203.7 631,204.6 632,205.5 633,206.4 634,207.2 635,208 636,208.7 637,209.5 638,210.2 639,211 640,211.9 641,212.8 642,213.8 643,214.8 644,215.8 645,216.8 646,217.8 647,218.9 648,219.8 649,220.8 650,221.7 651,222.6 652,223.5 653,224.4 654,225.3 655,226.1 656,227 657,227.8 658,228.6 659,229.4 660,230.1 661,230.9 662,231.6 663,232.4 664,233.1 665,233.8 666,234.5 667,235.2 668,235.9 669,236.5 670,237.2 671,237.9 672,238.5 673,239.2 674,239.8 675,240.5 676,241.1 677,241.8 678,242.5 679,243.1 680,243.7 681,244.3 682,244.8 683,245.3 684,245.7 685,246.1 686,246.5 687,246.9 688,247.2 689,247.6 690,247.9 691,248.2 692,248.5 693,248.8 694,249.1 695,249.4 696,249.6 697,249.9 698,250.1 699,250.3 700,250.5 701,250.6 702,250.8 703,250.9 704,251.1 705,251.2 706,251.3 707,251.5 708,251.6 709,251.7 710,251.8 711,251.9 712,252 713,252.1 714,252.2 715,252.3 716,252.4 717,252.5 718,252.6 719,252.7 720,252.7 721,252.8 722,252.8 723,252.9 724,252.9 725,253 726,253 727,253 728,253"/><path d="M435,213.3 436,213.5 437,213.6 438,213.8 439,213.9 440,214 441,214 442,214 443,214 444,214 445,213.9 446,213.7 447,213.5 448,213.2 449,212.9 450,212.7 451,212.3 452,212 453,211.6 454,211.2 455,210.8 456,210.4 457,210.1 458,209.7 459,209.4 460,209.1 461,208.8 462,208.6 463,208.3 464,208.1 465,207.9 466,207.7 467,207.6 468,207.5 469,207.4 470,207.3 471,207.2 472,207.1 473,207 474,206.8 475,206.6 476,206.4 477,206.1 478,205.8 479,205.6 480,205.4 481,205.3 482,205.2 483,205.1 484,205.1 485,205 486,204.9 487,204.9 488,204.8 489,204.8 490,204.8 491,204.7 492,204.7 493,204.8 494,204.9 495,204.9 496,205 497,205.2 498,205.3 499,205.4 500,205.6 501,205.8 502,206 503,206.1 504,206.3 505,206.5 506,206.6 507,206.8 508,206.9 509,207.1 510,207.1 511,207.1 512,206.9 513,206.9 514,206.9 515,207 516,207.1 517,207.2 518,207.4 519,207.5 520,207.5 521,207.5 522,207.3 523,207.1 524,206.7 525,206.1 526,205.3 527,204.3 528,203.1 529,201.4 530,199.4 531,197.4 532,195.8 533,194.4 534,193 535,191.6 536,190 537,188.2 538,186.3 539,184.5 540,182.7 541,180.9 542,179.2 543,177.6 544,176.2 545,174.7 546,173.3 547,172 548,170.8 549,169.6 550,168.5 551,167.3 552,166 553,164.7 554,163.4 555,162.2 556,161 557,159.9 558,158.8 559,157.8 560,156.9 561,156 562,155.1 563,154.2 564,153.4 565,152.5 566,151.7 567,150.9 568,150 569,149.1 570,148.3 571,147.5 572,146.7 573,146.1 574,145.4 575,144.9 576,144.4 577,144 578,143.6 579,143.3 580,143.1 581,143 582,143 583,143 584,143.2 585,143.4 586,143.8 587,144.5 588,145.6 589,146.8 590,147.9 591,149 592,150.2 593,151.7 594,153.5 595,155.3 596,157.2 597,159.2 598,161.3 599,163.4 600,165.5 601,167.6 602,169.5 603,171 604,172.3 605,173.4 606,174.5 607,175.5 608,176.5 609,177.4 610,178.3 611,179.2 612,180.1 613,181 614,181.8 615,182.6 616,183.4 617,184.2 618,185.1 619,186 620,186.9 621,187.9 622,188.8 623,189.8 624,190.8 625,191.8 626,192.8 627,193.8 628,194.8 629,195.8 630,196.8 631,197.8 632,198.8 633,199.8 634,200.7 635,201.6 636,202.4 637,203.3 638,204.1 639,205 640,206 641,207.1 642,208.2 643,209.3 644,210.5 645,211.6 646,212.8 647,213.9 648,215 649,216.1 650,217.1 651,218.2 652,219.2 653,220.2 654,221.2 655,222.2 656,223.2 657,224.1 658,225 659,225.9 660,226.8 661,227.7 662,228.5 663,229.3 664,230.2 665,231 666,231.8 667,232.6 668,233.4 669,234.2 670,234.9 671,235.7 672,236.4 673,237.2 674,237.9 675,238.7 676,239.5 677,240.2 678,241 679,241.7 680,242.4 681,243 682,243.6 683,244.2 684,244.7 685,245.2 686,245.6 687,246 688,246.4 689,246.8 690,247.2 691,247.6 692,247.9 693,248.3 694,248.6 695,248.9 696,249.2 697,249.4 698,249.7 699,249.9 700,250.1 701,250.3 702,250.5 703,250.7 704,250.8 705,251 706,251.1 707,251.2 708,251.4 709,251.5 710,251.7 711,251.8 712,251.9 713,252 714,252.1 715,252.2 716,252.4 717,252.4 718,252.5 719,252.6 720,252.7 721,252.8 722,252.8 723,252.9 724,252.9 725,253 726,253 727,253 728,253"/><path d="M435,212.9 436,213 437,213.2 438,213.3 439,213.4 440,213.5 441,213.5 442,213.5 443,213.5 444,213.5 445,213.4 446,213.2 447,213 448,212.7 449,212.5 450,212.2 451,211.9 452,211.5 453,211.2 454,210.8 455,210.5 456,210.1 457,209.8 458,209.5 459,209.2 460,209 461,208.8 462,208.7 463,208.7 464,208.6 465,208.6 466,208.7 467,208.8 468,208.9 469,209 470,209.1 471,209.3 472,209.4 473,209.5 474,209.6 475,209.6 476,209.6 477,209.6 478,209.6 479,209.5 480,209.6 481,209.6 482,209.7 483,209.8 484,209.9 485,210 486,210.1 487,210.2 488,210.3 489,210.4 490,210.5 491,210.6 492,210.7 493,210.9 494,211.1 495,211.3 496,211.4 497,211.6 498,211.9 499,212.1 500,212.3 501,212.5 502,212.8 503,213 504,213.2 505,213.4 506,213.7 507,213.9 508,214.2 509,214.4 510,214.6 511,214.8 512,214.9 513,215.1 514,215.3 515,215.5 516,215.7 517,215.9 518,216.2 519,216.3 520,216.5 521,216.6 522,216.6 523,216.5 524,216.3 525,216 526,215.4 527,214.7 528,213.7 529,212.5 530,211 531,209.5 532,208.2 533,207.1 534,206 535,204.8 536,203.5 537,202.1 538,200.7 539,199.2 540,197.8 541,196.4 542,195 543,193.7 544,192.4 545,191.2 546,190 547,188.8 548,187.6 549,186.4 550,185.3 551,184 552,182.7 553,181.4 554,180 555,178.7 556,177.4 557,176.2 558,175 559,173.9 560,172.8 561,171.8 562,170.7 563,169.7 564,168.7 565,167.7 566,166.6 567,165.6 568,164.5 569,163.4 570,162.3 571,161.3 572,160.3 573,159.3 574,158.3 575,157.4 576,156.6 577,155.8 578,155 579,154.3 580,153.6 581,153 582,152.4 583,152 584,151.5 585,151.2 586,151 587,151 588,151.2 589,151.5 590,151.7 591,152 592,152.4 593,153 594,153.7 595,154.7 596,155.8 597,156.9 598,158.2 599,159.6 600,160.9 601,162.3 602,163.5 603,164.5 604,165.4 605,166.3 606,167.1 607,167.9 608,168.7 609,169.5 610,170.3 611,171.1 612,171.9 613,172.7 614,173.5 615,174.3 616,175.1 617,175.9 618,176.8 619,177.8 620,178.8 621,179.8 622,180.9 623,182 624,183.1 625,184.1 626,185.2 627,186.3 628,187.4 629,188.5 630,189.6 631,190.8 632,191.9 633,193 634,194 635,195 636,195.9 637,196.9 638,197.8 639,198.9 640,200 641,201.2 642,202.4 643,203.7 644,205 645,206.3 646,207.6 647,208.9 648,210.1 649,211.3 650,212.5 651,213.7 652,214.8 653,216 654,217.1 655,218.2 656,219.3 657,220.3 658,221.4 659,222.4 660,223.4 661,224.3 662,225.3 663,226.3 664,227.2 665,228.1 666,229 667,229.9 668,230.8 669,231.7 670,232.6 671,233.4 672,234.3 673,235.1 674,236 675,236.8 676,237.7 677,238.6 678,239.4 679,240.2 680,241 681,241.8 682,242.5 683,243.1 684,243.7 685,244.2 686,244.7 687,245.2 688,245.6 689,246 690,246.5 691,246.9 692,247.3 693,247.7 694,248 695,248.4 696,248.7 697,249 698,249.3 699,249.5 700,249.8 701,250 702,250.2 703,250.4 704,250.5 705,250.7 706,250.9 707,251 708,251.2 709,251.3 710,251.5 711,251.6 712,251.8 713,251.9 714,252 715,252.2 716,252.3 717,252.4 718,252.5 719,252.6 720,252.7 721,252.7 722,252.8 723,252.9 724,252.9 725,252.9 726,253 727,253 728,253"/><path d="M435,212.4 436,212.5 437,212.7 438,212.8 439,212.9 440,212.9 441,213 442,213 443,213 444,212.9 445,212.8 446,212.7 447,212.4 448,212.2 449,211.9 450,211.7 451,211.4 452,211.1 453,210.7 454,210.4 455,210.1 456,209.8 457,209.5 458,209.3 459,209.1 460,208.9 461,208.9 462,208.9 463,209 464,209.2 465,209.4 466,209.7 467,210 468,210.4 469,210.7 470,211.1 471,211.5 472,211.8 473,212.1 474,212.4 475,212.7 476,213 477,213.2 478,213.5 479,213.7 480,214 481,214.2 482,214.4 483,214.7 484,214.9 485,215.2 486,215.4 487,215.7 488,216 489,216.2 490,216.5 491,216.8 492,217.1 493,217.3 494,217.6 495,217.9 496,218.2 497,218.5 498,218.8 499,219.1 500,219.4 501,219.6 502,219.9 503,220.2 504,220.5 505,220.8 506,221.1 507,221.4 508,221.8 509,222.1 510,222.5 511,222.9 512,223.3 513,223.7 514,224.1 515,224.4 516,224.8 517,225.1 518,225.4 519,225.7 520,226 521,226.2 522,226.3 523,226.4 524,226.5 525,226.5 526,226.2 527,225.7 528,225 529,224.2 530,223.2 531,222.3 532,221.4 533,220.5 534,219.6 535,218.7 536,217.8 537,216.8 538,215.8 539,214.7 540,213.7 541,212.6 542,211.6 543,210.6 544,209.6 545,208.5 546,207.5 547,206.4 548,205.3 549,204.2 550,203 551,201.7 552,200.4 553,198.9 554,197.5 555,196.1 556,194.7 557,193.4 558,192.1 559,190.8 560,189.6 561,188.4 562,187.2 563,186 564,184.8 565,183.6 566,182.4 567,181.1 568,179.8 569,178.5 570,177.2 571,175.8 572,174.5 573,173.2 574,171.9 575,170.6 576,169.4 577,168.2 578,167 579,165.8 580,164.7 581,163.5 582,162.4 583,161.4 584,160.4 585,159.5 586,158.6 587,157.8 588,157 589,156.3 590,155.7 591,155.2 592,154.7 593,154.3 594,154 595,154 596,154.2 597,154.6 598,155 599,155.5 600,156 601,156.6 602,157.2 603,157.7 604,158.2 605,158.8 606,159.3 607,159.9 608,160.5 609,161.2 610,161.8 611,162.5 612,163.2 613,163.9 614,164.7 615,165.5 616,166.3 617,167.2 618,168.2 619,169.2 620,170.2 621,171.4 622,172.5 623,173.7 624,174.9 625,176.1 626,177.3 627,178.5 628,179.6 629,180.8 630,182.1 631,183.4 632,184.6 633,185.8 634,187 635,188.1 636,189.1 637,190.1 638,191.2 639,192.4 640,193.6 641,194.9 642,196.3 643,197.7 644,199.2 645,200.6 646,202.1 647,203.5 648,204.9 649,206.3 650,207.6 651,208.9 652,210.2 653,211.4 654,212.7 655,213.9 656,215.2 657,216.3 658,217.5 659,218.6 660,219.7 661,220.8 662,221.9 663,223 664,224.1 665,225.1 666,226.1 667,227.1 668,228.1 669,229.1 670,230.1 671,231.1 672,232 673,233 674,233.9 675,234.9 676,235.9 677,236.8 678,237.8 679,238.7 680,239.6 681,240.4 682,241.2 683,241.9 684,242.6 685,243.2 686,243.7 687,244.2 688,244.7 689,245.2 690,245.7 691,246.2 692,246.6 693,247 694,247.5 695,247.8 696,248.2 697,248.5 698,248.9 699,249.2 700,249.4 701,249.7 702,249.9 703,250.1 704,250.3 705,250.4 706,250.6 707,250.8 708,251 709,251.1 710,251.3 711,251.5 712,251.6 713,251.8 714,251.9 715,252.1 716,252.2 717,252.3 718,252.4 719,252.5 720,252.6 721,252.7 722,252.8 723,252.8 724,252.9 725,252.9 726,253 727,253 728,253"/></g><g fill="none" stroke="#3a79b2" stroke-width="1.55" stroke-linejoin="round"><path d="M435,216.6 436,216.8 437,217 438,217.2 439,217.4 440,217.5 441,217.5 442,217.6 443,217.6 444,217.5 445,217.4 446,217.2 447,217 448,216.7 449,216.4 450,216 451,215.6 452,215.1 453,214.5 454,213.9 455,213.3 456,212.6 457,211.9 458,211.3 459,210.5 460,209.7 461,208.7 462,207.5 463,206.1 464,204.5 465,202.7 466,201 467,199.2 468,197.5 469,195.9 470,194.3 471,192.6 472,191 473,189.4 474,187.7 475,185.9 476,184 477,181.9 478,179.7 479,177.8 480,176.3 481,174.9 482,173.6 483,172.4 484,171.2 485,170.1 486,169 487,167.9 488,166.7 489,165.6 490,164.5 491,163.5 492,162.6 493,161.8 494,161.1 495,160.5 496,160 497,159.5 498,159.1 499,158.8 500,158.5 501,158.3 502,158.1 503,157.9 504,157.7 505,157.4 506,157 507,156.6 508,156.1 509,155.4 510,154.4 511,152.8 512,150.9 513,149.5 514,148.1 515,147 516,146.3 517,145.8 518,145.4 519,145 520,144.3 521,143.4 522,142.2 523,140.8 524,138.9 525,136.2 526,133.6 527,131 528,128 529,123.5 530,117.8 531,112.3 532,108.1 533,104.8 534,101.8 535,98.6 536,94.7 537,90.2 538,85.6 539,81.1 540,76.7 541,72.4 542,68.3 543,64.9 544,61.9 545,59 546,56.4 547,54.2 548,52.4 549,51.2 550,50.2 551,49.2 552,48.3 553,47.5 554,46.7 555,46.1 556,45.6 557,45.2 558,44.9 559,44.8 560,44.8 561,44.9 562,45.2 563,45.4 564,45.8 565,46.3 566,46.8 567,47.3 568,47.9 569,48.5 570,49.2 571,50.2 572,51.5 573,53.1 574,54.8 575,56.6 576,58.6 577,60.9 578,63.4 579,66.2 580,69.2 581,72.6 582,76.3 583,80.2 584,84.2 585,88.4 586,93.1 587,98.7 588,106.3 589,114.2 590,121 591,127.6 592,134.8 593,143.1 594,151.5 595,159.6 596,167.4 597,175.1 598,183 599,190.6 600,197.9 601,205.2 602,211.7 603,216.4 604,220.3 605,223.7 606,226.6 607,229.1 608,231.2 609,233.1 610,234.9 611,236.5 612,238 613,239.2 614,240.3 615,241.1 616,241.7 617,242.4 618,242.9 619,243.4 620,243.9 621,244.4 622,244.8 623,245.2 624,245.5 625,245.8 626,246.1 627,246.4 628,246.6 629,246.9 630,247.1 631,247.3 632,247.4 633,247.6 634,247.8 635,247.9 636,248.1 637,248.2 638,248.3 639,248.5 640,248.6 641,248.7 642,248.9 643,249 644,249.1 645,249.3 646,249.4 647,249.5 648,249.7 649,249.8 650,249.9 651,250 652,250.2 653,250.3 654,250.4 655,250.5 656,250.6 657,250.7 658,250.8 659,250.8 660,250.9 661,251 662,251 663,251.1 664,251.1 665,251.2 666,251.2 667,251.3 668,251.3 669,251.4 670,251.4 671,251.5 672,251.5 673,251.6 674,251.6 675,251.7 676,251.7 677,251.7 678,251.8 679,251.8 680,251.9 681,251.9 682,252 683,252 684,252 685,252.1 686,252.1 687,252.2 688,252.2 689,252.2 690,252.3 691,252.3 692,252.3 693,252.4 694,252.4 695,252.4 696,252.5 697,252.5 698,252.5 699,252.6 700,252.6 701,252.6 702,252.6 703,252.7 704,252.7 705,252.7 706,252.7 707,252.8 708,252.8 709,252.8 710,252.8 711,252.8 712,252.9 713,252.9 714,252.9 715,252.9 716,252.9 717,252.9 718,252.9 719,253 720,253 721,253 722,253 723,253 724,253 725,253 726,253 727,253 728,253"/><path d="M435,216.4 436,216.6 437,216.8 438,217 439,217.1 440,217.2 441,217.3 442,217.3 443,217.4 444,217.3 445,217.2 446,217 447,216.8 448,216.5 449,216.2 450,215.8 451,215.4 452,214.9 453,214.3 454,213.7 455,213.1 456,212.5 457,211.8 458,211.2 459,210.4 460,209.6 461,208.7 462,207.6 463,206.2 464,204.7 465,203.1 466,201.4 467,199.7 468,198.1 469,196.6 470,195.1 471,193.6 472,192 473,190.5 474,188.9 475,187.2 476,185.4 477,183.4 478,181.4 479,179.6 480,178.1 481,176.8 482,175.6 483,174.5 484,173.4 485,172.3 486,171.3 487,170.2 488,169.1 489,168.1 490,167 491,166.1 492,165.2 493,164.5 494,163.9 495,163.3 496,162.9 497,162.4 498,162 499,161.7 500,161.5 501,161.3 502,161.1 503,160.9 504,160.8 505,160.5 506,160.2 507,159.8 508,159.3 509,158.7 510,157.8 511,156.2 512,154.5 513,153.1 514,151.9 515,150.8 516,150.2 517,149.7 518,149.4 519,148.9 520,148.3 521,147.5 522,146.4 523,145 524,143.2 525,140.6 526,138.1 527,135.7 528,132.8 529,128.4 530,122.9 531,117.7 532,113.7 533,110.5 534,107.6 535,104.5 536,100.7 537,96.4 538,91.9 539,87.6 540,83.5 541,79.3 542,75.4 543,72 544,69.1 545,66.4 546,63.8 547,61.6 548,59.9 549,58.7 550,57.7 551,56.7 552,55.8 553,54.9 554,54.1 555,53.5 556,52.9 557,52.5 558,52.1 559,52 560,51.9 561,52 562,52.1 563,52.3 564,52.6 565,53 566,53.4 567,53.9 568,54.4 569,54.9 570,55.5 571,56.4 572,57.5 573,59 574,60.5 575,62.2 576,64 577,66.1 578,68.5 579,71.1 580,73.9 581,77.1 582,80.5 583,84.2 584,87.9 585,91.9 586,96.4 587,101.6 588,108.8 589,116.3 590,122.7 591,129 592,135.8 593,143.6 594,151.7 595,159.3 596,166.7 597,174.1 598,181.6 599,188.9 600,195.8 601,202.8 602,209 603,213.5 604,217.3 605,220.5 606,223.3 607,225.7 608,227.7 609,229.6 610,231.3 611,232.9 612,234.3 613,235.5 614,236.6 615,237.4 616,238 617,238.7 618,239.3 619,239.8 620,240.3 621,240.8 622,241.2 623,241.7 624,242 625,242.4 626,242.7 627,243.1 628,243.3 629,243.6 630,243.9 631,244.1 632,244.4 633,244.6 634,244.8 635,245 636,245.2 637,245.4 638,245.5 639,245.7 640,245.9 641,246.1 642,246.3 643,246.5 644,246.7 645,246.9 646,247.1 647,247.3 648,247.5 649,247.7 650,247.8 651,248 652,248.2 653,248.4 654,248.5 655,248.7 656,248.8 657,249 658,249.1 659,249.3 660,249.4 661,249.5 662,249.6 663,249.7 664,249.8 665,249.9 666,250 667,250.1 668,250.2 669,250.3 670,250.4 671,250.5 672,250.6 673,250.7 674,250.7 675,250.8 676,250.9 677,251 678,251.1 679,251.2 680,251.3 681,251.4 682,251.4 683,251.5 684,251.6 685,251.6 686,251.7 687,251.8 688,251.8 689,251.9 690,252 691,252 692,252.1 693,252.1 694,252.2 695,252.2 696,252.3 697,252.3 698,252.4 699,252.4 700,252.4 701,252.5 702,252.5 703,252.5 704,252.6 705,252.6 706,252.6 707,252.7 708,252.7 709,252.7 710,252.8 711,252.8 712,252.8 713,252.8 714,252.8 715,252.9 716,252.9 717,252.9 718,252.9 719,252.9 720,252.9 721,253 722,253 723,253 724,253 725,253 726,253 727,253 728,253"/><path d="M435,216 436,216.1 437,216.4 438,216.5 439,216.7 440,216.8 441,216.8 442,216.9 443,216.9 444,216.8 445,216.7 446,216.5 447,216.3 448,216 449,215.7 450,215.4 451,215 452,214.5 453,213.9 454,213.4 455,212.8 456,212.2 457,211.6 458,211 459,210.3 460,209.6 461,208.7 462,207.7 463,206.5 464,205.2 465,203.8 466,202.3 467,200.8 468,199.5 469,198.1 470,196.8 471,195.5 472,194.2 473,192.8 474,191.4 475,190 476,188.4 477,186.7 478,184.9 479,183.3 480,182 481,180.9 482,179.8 483,178.8 484,177.9 485,177 486,176.1 487,175.1 488,174.2 489,173.3 490,172.4 491,171.6 492,170.8 493,170.2 494,169.7 495,169.3 496,168.8 497,168.5 498,168.2 499,167.9 500,167.7 501,167.6 502,167.5 503,167.4 504,167.2 505,167 506,166.8 507,166.5 508,166.1 509,165.5 510,164.8 511,163.4 512,161.9 513,160.7 514,159.7 515,158.8 516,158.3 517,157.9 518,157.6 519,157.2 520,156.7 521,156 522,155 523,153.8 524,152.2 525,149.9 526,147.7 527,145.4 528,142.7 529,138.8 530,133.8 531,129 532,125.3 533,122.4 534,119.7 535,116.9 536,113.4 537,109.5 538,105.4 539,101.4 540,97.6 541,93.7 542,90.1 543,87 544,84.3 545,81.8 546,79.4 547,77.3 548,75.6 549,74.4 550,73.4 551,72.4 552,71.4 553,70.5 554,69.7 555,68.9 556,68.3 557,67.7 558,67.3 559,67 560,66.8 561,66.7 562,66.7 563,66.8 564,66.9 565,67.1 566,67.4 567,67.6 568,68 569,68.3 570,68.7 571,69.3 572,70.2 573,71.3 574,72.6 575,74 576,75.4 577,77.2 578,79.2 579,81.4 580,83.8 581,86.5 582,89.4 583,92.5 584,95.8 585,99.2 586,103.1 587,107.7 588,114 589,120.6 590,126.3 591,131.8 592,137.8 593,144.8 594,151.9 595,158.7 596,165.4 597,172 598,178.7 599,185.3 600,191.5 601,197.8 602,203.4 603,207.5 604,210.9 605,213.9 606,216.4 607,218.6 608,220.4 609,222.2 610,223.8 611,225.3 612,226.6 613,227.8 614,228.8 615,229.6 616,230.3 617,230.9 618,231.6 619,232.2 620,232.7 621,233.3 622,233.8 623,234.3 624,234.8 625,235.2 626,235.6 627,236.1 628,236.4 629,236.8 630,237.2 631,237.5 632,237.9 633,238.2 634,238.5 635,238.8 636,239.1 637,239.4 638,239.7 639,239.9 640,240.2 641,240.6 642,240.9 643,241.2 644,241.5 645,241.9 646,242.2 647,242.5 648,242.9 649,243.2 650,243.5 651,243.8 652,244.1 653,244.4 654,244.7 655,244.9 656,245.2 657,245.5 658,245.7 659,245.9 660,246.2 661,246.4 662,246.6 663,246.8 664,247 665,247.2 666,247.4 667,247.6 668,247.8 669,248 670,248.2 671,248.4 672,248.6 673,248.7 674,248.9 675,249.1 676,249.3 677,249.5 678,249.7 679,249.8 680,250 681,250.2 682,250.3 683,250.5 684,250.6 685,250.7 686,250.8 687,251 688,251.1 689,251.2 690,251.3 691,251.4 692,251.5 693,251.6 694,251.7 695,251.7 696,251.8 697,251.9 698,252 699,252 700,252.1 701,252.2 702,252.2 703,252.3 704,252.3 705,252.4 706,252.4 707,252.5 708,252.5 709,252.6 710,252.6 711,252.6 712,252.7 713,252.7 714,252.7 715,252.8 716,252.8 717,252.8 718,252.9 719,252.9 720,252.9 721,252.9 722,252.9 723,253 724,253 725,253 726,253 727,253 728,253"/><path d="M435,215.6 436,215.7 437,215.9 438,216.1 439,216.3 440,216.3 441,216.4 442,216.4 443,216.4 444,216.4 445,216.3 446,216.1 447,215.9 448,215.6 449,215.3 450,215 451,214.6 452,214.1 453,213.6 454,213 455,212.5 456,211.9 457,211.3 458,210.8 459,210.2 460,209.5 461,208.7 462,207.8 463,206.8 464,205.6 465,204.4 466,203.1 467,201.9 468,200.7 469,199.5 470,198.4 471,197.3 472,196.2 473,195 474,193.8 475,192.5 476,191.2 477,189.6 478,188.1 479,186.7 480,185.6 481,184.6 482,183.7 483,182.8 484,182 485,181.2 486,180.5 487,179.7 488,178.9 489,178.1 490,177.3 491,176.6 492,176 493,175.5 494,175.1 495,174.7 496,174.4 497,174.1 498,173.9 499,173.7 500,173.5 501,173.4 502,173.4 503,173.3 504,173.2 505,173.1 506,172.9 507,172.6 508,172.3 509,171.9 510,171.3 511,170.1 512,168.8 513,167.8 514,166.9 515,166.2 516,165.7 517,165.4 518,165.2 519,164.9 520,164.5 521,163.9 522,163 523,161.9 524,160.5 525,158.5 526,156.5 527,154.4 528,152 529,148.3 530,143.8 531,139.4 532,136.1 533,133.4 534,130.9 535,128.3 536,125.1 537,121.5 538,117.7 539,114.1 540,110.6 541,107 542,103.7 543,100.9 544,98.4 545,96 546,93.7 547,91.8 548,90.2 549,89 550,87.9 551,86.9 552,85.9 553,84.9 554,84 555,83.2 556,82.4 557,81.8 558,81.3 559,80.9 560,80.6 561,80.4 562,80.2 563,80.2 564,80.1 565,80.2 566,80.2 567,80.4 568,80.5 569,80.6 570,80.8 571,81.2 572,81.9 573,82.7 574,83.7 575,84.8 576,86 577,87.4 578,89 579,90.8 580,92.8 581,95.1 582,97.6 583,100.2 584,103 585,106 586,109.3 587,113.3 588,118.8 589,124.6 590,129.6 591,134.4 592,139.7 593,145.8 594,152.2 595,158.2 596,164.1 597,170 598,176.1 599,181.9 600,187.6 601,193.2 602,198.2 603,201.9 604,205 605,207.7 606,210 607,212 608,213.7 609,215.3 610,216.8 611,218.2 612,219.5 613,220.6 614,221.6 615,222.4 616,223.1 617,223.8 618,224.5 619,225.1 620,225.7 621,226.3 622,226.9 623,227.5 624,228.1 625,228.6 626,229.1 627,229.6 628,230.1 629,230.6 630,231 631,231.5 632,231.9 633,232.4 634,232.8 635,233.1 636,233.5 637,233.9 638,234.2 639,234.6 640,235 641,235.4 642,235.9 643,236.3 644,236.8 645,237.3 646,237.7 647,238.2 648,238.6 649,239 650,239.5 651,239.9 652,240.3 653,240.7 654,241.1 655,241.5 656,241.8 657,242.2 658,242.5 659,242.9 660,243.2 661,243.5 662,243.8 663,244.1 664,244.4 665,244.7 666,245 667,245.3 668,245.6 669,245.9 670,246.2 671,246.4 672,246.7 673,247 674,247.2 675,247.5 676,247.8 677,248.1 678,248.3 679,248.6 680,248.8 681,249.1 682,249.3 683,249.5 684,249.7 685,249.9 686,250 687,250.2 688,250.4 689,250.5 690,250.7 691,250.8 692,250.9 693,251.1 694,251.2 695,251.3 696,251.4 697,251.5 698,251.6 699,251.7 700,251.8 701,251.9 702,252 703,252 704,252.1 705,252.2 706,252.2 707,252.3 708,252.3 709,252.4 710,252.5 711,252.5 712,252.6 713,252.6 714,252.7 715,252.7 716,252.7 717,252.8 718,252.8 719,252.8 720,252.9 721,252.9 722,252.9 723,253 724,253 725,253 726,253 727,253 728,253"/><path d="M435,215.2 436,215.3 437,215.5 438,215.7 439,215.8 440,215.9 441,216 442,216 443,216 444,215.9 445,215.8 446,215.6 447,215.4 448,215.1 449,214.8 450,214.5 451,214.1 452,213.7 453,213.2 454,212.7 455,212.2 456,211.6 457,211.1 458,210.6 459,210 460,209.4 461,208.7 462,208 463,207.1 464,206.1 465,205 466,204 467,202.9 468,202 469,201 470,200.1 471,199.2 472,198.2 473,197.2 474,196.2 475,195.2 476,194 477,192.7 478,191.4 479,190.2 480,189.3 481,188.5 482,187.7 483,187 484,186.4 485,185.7 486,185.1 487,184.4 488,183.8 489,183.1 490,182.5 491,181.9 492,181.4 493,181 494,180.7 495,180.4 496,180.1 497,179.9 498,179.8 499,179.6 500,179.5 501,179.5 502,179.5 503,179.5 504,179.4 505,179.3 506,179.2 507,179 508,178.8 509,178.5 510,178 511,177 512,176 513,175.1 514,174.4 515,173.8 516,173.5 517,173.3 518,173.1 519,172.9 520,172.6 521,172 522,171.3 523,170.4 524,169.2 525,167.4 526,165.6 527,163.8 528,161.6 529,158.3 530,154.3 531,150.3 532,147.3 533,144.9 534,142.6 535,140.2 536,137.3 537,134 538,130.6 539,127.3 540,124.1 541,120.9 542,117.9 543,115.3 544,113 545,110.8 546,108.7 547,106.9 548,105.3 549,104.1 550,103 551,102 552,100.9 553,99.9 554,98.9 555,98 556,97.2 557,96.5 558,95.8 559,95.3 560,94.9 561,94.6 562,94.3 563,94.1 564,93.9 565,93.8 566,93.7 567,93.6 568,93.5 569,93.5 570,93.5 571,93.7 572,94.1 573,94.6 574,95.3 575,96.1 576,96.9 577,98 578,99.3 579,100.7 580,102.3 581,104.1 582,106.1 583,108.3 584,110.6 585,113 586,115.8 587,119.2 588,123.8 589,128.8 590,133 591,137.2 592,141.7 593,146.9 594,152.4 595,157.7 596,162.8 597,168 598,173.3 599,178.5 600,183.4 601,188.4 602,192.8 603,196.1 604,198.8 605,201.2 606,203.3 607,205.1 608,206.7 609,208.2 610,209.6 611,210.9 612,212.1 613,213.2 614,214.1 615,214.9 616,215.6 617,216.4 618,217.1 619,217.8 620,218.4 621,219.1 622,219.8 623,220.4 624,221.1 625,221.7 626,222.3 627,222.9 628,223.5 629,224 630,224.6 631,225.2 632,225.7 633,226.2 634,226.7 635,227.2 636,227.7 637,228.1 638,228.6 639,229.1 640,229.6 641,230.1 642,230.7 643,231.3 644,231.9 645,232.4 646,233 647,233.6 648,234.2 649,234.7 650,235.3 651,235.8 652,236.3 653,236.8 654,237.3 655,237.8 656,238.3 657,238.8 658,239.3 659,239.7 660,240.1 661,240.5 662,241 663,241.4 664,241.8 665,242.2 666,242.5 667,242.9 668,243.3 669,243.7 670,244 671,244.4 672,244.8 673,245.1 674,245.5 675,245.9 676,246.2 677,246.6 678,246.9 679,247.3 680,247.6 681,247.9 682,248.2 683,248.5 684,248.8 685,249 686,249.2 687,249.4 688,249.6 689,249.8 690,250 691,250.2 692,250.4 693,250.5 694,250.7 695,250.8 696,251 697,251.1 698,251.3 699,251.4 700,251.5 701,251.6 702,251.7 703,251.8 704,251.9 705,251.9 706,252 707,252.1 708,252.2 709,252.2 710,252.3 711,252.4 712,252.4 713,252.5 714,252.6 715,252.6 716,252.7 717,252.7 718,252.8 719,252.8 720,252.8 721,252.9 722,252.9 723,252.9 724,253 725,253 726,253 727,253 728,253"/><path d="M435,214.7 436,214.8 437,215 438,215.2 439,215.3 440,215.4 441,215.4 442,215.5 443,215.5 444,215.4 445,215.3 446,215.1 447,214.9 448,214.6 449,214.3 450,214 451,213.7 452,213.3 453,212.8 454,212.3 455,211.8 456,211.3 457,210.8 458,210.4 459,209.9 460,209.3 461,208.8 462,208.1 463,207.4 464,206.6 465,205.8 466,205 467,204.2 468,203.4 469,202.7 470,202 471,201.3 472,200.5 473,199.8 474,199 475,198.2 476,197.3 477,196.2 478,195.2 479,194.3 480,193.5 481,192.9 482,192.3 483,191.8 484,191.2 485,190.8 486,190.3 487,189.8 488,189.3 489,188.8 490,188.3 491,187.9 492,187.5 493,187.2 494,187 495,186.8 496,186.7 497,186.5 498,186.4 499,186.4 500,186.4 501,186.4 502,186.4 503,186.4 504,186.5 505,186.4 506,186.4 507,186.3 508,186.2 509,186 510,185.6 511,184.9 512,184.1 513,183.5 514,182.9 515,182.5 516,182.3 517,182.2 518,182.1 519,181.9 520,181.7 521,181.3 522,180.7 523,180 524,179 525,177.6 526,176 527,174.4 528,172.4 529,169.6 530,166.1 531,162.7 532,160 533,157.8 534,155.8 535,153.6 536,151.1 537,148.2 538,145.2 539,142.3 540,139.5 541,136.6 542,134 543,131.6 544,129.5 545,127.5 546,125.6 547,123.9 548,122.4 549,121.3 550,120.2 551,119.1 552,117.9 553,116.8 554,115.8 555,114.8 556,113.9 557,113.1 558,112.3 559,111.7 560,111.1 561,110.6 562,110.2 563,109.8 564,109.5 565,109.2 566,108.9 567,108.6 568,108.3 569,108.1 570,107.8 571,107.7 572,107.9 573,108.1 574,108.4 575,108.9 576,109.4 577,110 578,110.9 579,111.9 580,113 581,114.3 582,115.7 583,117.4 584,119.1 585,121 586,123.1 587,125.8 588,129.5 589,133.5 590,136.9 591,140.3 592,143.9 593,148.2 594,152.7 595,157 596,161.3 597,165.7 598,170.2 599,174.5 600,178.7 601,182.9 602,186.7 603,189.5 604,191.9 605,194 606,195.8 607,197.4 608,198.8 609,200.1 610,201.4 611,202.6 612,203.7 613,204.8 614,205.7 615,206.5 616,207.2 617,207.9 618,208.7 619,209.4 620,210.2 621,210.9 622,211.7 623,212.4 624,213.1 625,213.9 626,214.6 627,215.3 628,216 629,216.6 630,217.3 631,218 632,218.7 633,219.3 634,219.9 635,220.5 636,221.1 637,221.6 638,222.2 639,222.8 640,223.4 641,224.1 642,224.8 643,225.5 644,226.3 645,227 646,227.7 647,228.5 648,229.2 649,229.9 650,230.5 651,231.2 652,231.8 653,232.5 654,233.1 655,233.8 656,234.4 657,235 658,235.5 659,236.1 660,236.6 661,237.2 662,237.7 663,238.2 664,238.7 665,239.2 666,239.7 667,240.2 668,240.7 669,241.2 670,241.7 671,242.1 672,242.6 673,243 674,243.5 675,244 676,244.5 677,244.9 678,245.4 679,245.8 680,246.3 681,246.7 682,247 683,247.4 684,247.7 685,248 686,248.3 687,248.5 688,248.8 689,249 690,249.3 691,249.5 692,249.7 693,249.9 694,250.1 695,250.3 696,250.5 697,250.7 698,250.9 699,251 700,251.1 701,251.3 702,251.4 703,251.5 704,251.6 705,251.7 706,251.8 707,251.9 708,252 709,252 710,252.1 711,252.2 712,252.3 713,252.4 714,252.4 715,252.5 716,252.6 717,252.6 718,252.7 719,252.8 720,252.8 721,252.8 722,252.9 723,252.9 724,252.9 725,253 726,253 727,253 728,253"/><path d="M435,214.2 436,214.4 437,214.6 438,214.7 439,214.8 440,214.9 441,215 442,215 443,215 444,214.9 445,214.8 446,214.6 447,214.4 448,214.2 449,213.9 450,213.6 451,213.2 452,212.8 453,212.4 454,211.9 455,211.5 456,211 457,210.6 458,210.1 459,209.7 460,209.2 461,208.8 462,208.3 463,207.7 464,207.1 465,206.5 466,205.9 467,205.3 468,204.8 469,204.3 470,203.8 471,203.3 472,202.8 473,202.2 474,201.7 475,201 476,200.4 477,199.6 478,198.8 479,198.1 480,197.6 481,197.1 482,196.7 483,196.3 484,195.9 485,195.6 486,195.2 487,194.9 488,194.5 489,194.2 490,193.9 491,193.6 492,193.4 493,193.2 494,193 495,193 496,192.9 497,192.8 498,192.8 499,192.8 500,192.9 501,192.9 502,193 503,193.1 504,193.2 505,193.2 506,193.2 507,193.2 508,193.2 509,193.1 510,192.9 511,192.4 512,191.8 513,191.4 514,191 515,190.8 516,190.7 517,190.6 518,190.6 519,190.6 520,190.4 521,190.2 522,189.7 523,189.2 524,188.4 525,187.2 526,185.9 527,184.5 528,182.8 529,180.4 530,177.4 531,174.4 532,172.1 533,170.2 534,168.4 535,166.5 536,164.2 537,161.7 538,159.1 539,156.6 540,154.1 541,151.6 542,149.3 543,147.2 544,145.3 545,143.5 546,141.8 547,140.2 548,138.8 549,137.6 550,136.5 551,135.4 552,134.2 553,133.1 554,131.9 555,130.8 556,129.8 557,128.9 558,128.1 559,127.3 560,126.6 561,126 562,125.4 563,124.9 564,124.3 565,123.8 566,123.4 567,122.9 568,122.4 569,122 570,121.5 571,121.2 572,121 573,120.9 574,121 575,121.1 576,121.2 577,121.5 578,122 579,122.5 580,123.2 581,124 582,125 583,126.1 584,127.2 585,128.6 586,130.1 587,132.1 588,135 589,138 590,140.6 591,143.2 592,146.1 593,149.4 594,152.9 595,156.4 596,159.9 597,163.5 598,167.2 599,170.8 600,174.3 601,177.7 602,180.9 603,183.2 604,185.2 605,187 606,188.6 607,190 608,191.2 609,192.5 610,193.6 611,194.7 612,195.7 613,196.7 614,197.6 615,198.4 616,199.1 617,199.9 618,200.7 619,201.5 620,202.3 621,203.1 622,203.9 623,204.8 624,205.6 625,206.4 626,207.2 627,208 628,208.8 629,209.6 630,210.4 631,211.2 632,211.9 633,212.7 634,213.4 635,214.1 636,214.7 637,215.4 638,216.1 639,216.8 640,217.5 641,218.3 642,219.2 643,220 644,220.9 645,221.8 646,222.7 647,223.5 648,224.4 649,225.2 650,226 651,226.8 652,227.6 653,228.3 654,229.1 655,229.8 656,230.6 657,231.3 658,232 659,232.6 660,233.3 661,234 662,234.6 663,235.2 664,235.8 665,236.4 666,237 667,237.6 668,238.2 669,238.8 670,239.4 671,239.9 672,240.5 673,241.1 674,241.6 675,242.2 676,242.8 677,243.3 678,243.9 679,244.4 680,244.9 681,245.4 682,245.9 683,246.3 684,246.7 685,247 686,247.4 687,247.7 688,248 689,248.3 690,248.6 691,248.8 692,249.1 693,249.4 694,249.6 695,249.8 696,250.1 697,250.3 698,250.5 699,250.6 700,250.8 701,251 702,251.1 703,251.2 704,251.3 705,251.4 706,251.5 707,251.7 708,251.8 709,251.9 710,252 711,252.1 712,252.2 713,252.3 714,252.3 715,252.4 716,252.5 717,252.6 718,252.6 719,252.7 720,252.8 721,252.8 722,252.9 723,252.9 724,252.9 725,253 726,253 727,253 728,253"/><path d="M435,213.8 436,213.9 437,214.1 438,214.3 439,214.4 440,214.4 441,214.5 442,214.5 443,214.5 444,214.5 445,214.4 446,214.2 447,214 448,213.7 449,213.4 450,213.1 451,212.8 452,212.4 453,212 454,211.6 455,211.1 456,210.7 457,210.3 458,209.9 459,209.5 460,209.2 461,208.8 462,208.4 463,208 464,207.6 465,207.2 466,206.8 467,206.4 468,206.1 469,205.8 470,205.5 471,205.2 472,204.9 473,204.6 474,204.2 475,203.8 476,203.3 477,202.8 478,202.2 479,201.8 480,201.4 481,201.1 482,200.8 483,200.6 484,200.4 485,200.2 486,200 487,199.8 488,199.6 489,199.4 490,199.2 491,199 492,198.9 493,198.8 494,198.8 495,198.8 496,198.8 497,198.9 498,198.9 499,199 500,199.1 501,199.2 502,199.3 503,199.5 504,199.6 505,199.7 506,199.8 507,199.8 508,199.9 509,199.9 510,199.9 511,199.6 512,199.2 513,199 514,198.8 515,198.7 516,198.7 517,198.7 518,198.8 519,198.8 520,198.8 521,198.6 522,198.3 523,197.9 524,197.3 525,196.4 526,195.3 527,194.2 528,192.7 529,190.6 530,188.1 531,185.7 532,183.7 533,182 534,180.4 535,178.7 536,176.8 537,174.6 538,172.4 539,170.2 540,168.1 541,165.9 542,163.9 543,162.1 544,160.4 545,158.7 546,157.2 547,155.7 548,154.4 549,153.2 550,152.1 551,150.9 552,149.7 553,148.5 554,147.3 555,146.1 556,145 557,144 558,143.1 559,142.2 560,141.4 561,140.6 562,139.9 563,139.2 564,138.5 565,137.9 566,137.2 567,136.5 568,135.9 569,135.2 570,134.6 571,134 572,133.6 573,133.2 574,132.9 575,132.7 576,132.5 577,132.5 578,132.5 579,132.7 580,132.9 581,133.3 582,133.7 583,134.3 584,135 585,135.8 586,136.8 587,138.1 588,140.1 589,142.3 590,144.2 591,146 592,148.1 593,150.5 594,153.2 595,155.9 596,158.6 597,161.4 598,164.3 599,167.2 600,170 601,172.8 602,175.3 603,177.2 604,178.9 605,180.4 606,181.7 607,182.9 608,184 609,185.1 610,186.2 611,187.2 612,188.1 613,189 614,189.9 615,190.7 616,191.4 617,192.2 618,193.1 619,193.9 620,194.8 621,195.7 622,196.6 623,197.5 624,198.4 625,199.3 626,200.2 627,201.1 628,202 629,202.8 630,203.7 631,204.6 632,205.5 633,206.4 634,207.2 635,208 636,208.7 637,209.5 638,210.2 639,211 640,211.9 641,212.8 642,213.8 643,214.8 644,215.8 645,216.8 646,217.8 647,218.9 648,219.8 649,220.8 650,221.7 651,222.6 652,223.5 653,224.4 654,225.3 655,226.1 656,227 657,227.8 658,228.6 659,229.4 660,230.1 661,230.9 662,231.6 663,232.4 664,233.1 665,233.8 666,234.5 667,235.2 668,235.9 669,236.5 670,237.2 671,237.9 672,238.5 673,239.2 674,239.8 675,240.5 676,241.1 677,241.8 678,242.5 679,243.1 680,243.7 681,244.3 682,244.8 683,245.3 684,245.7 685,246.1 686,246.5 687,246.9 688,247.2 689,247.6 690,247.9 691,248.2 692,248.5 693,248.8 694,249.1 695,249.4 696,249.6 697,249.9 698,250.1 699,250.3 700,250.5 701,250.6 702,250.8 703,250.9 704,251.1 705,251.2 706,251.3 707,251.5 708,251.6 709,251.7 710,251.8 711,251.9 712,252 713,252.1 714,252.2 715,252.3 716,252.4 717,252.5 718,252.6 719,252.7 720,252.7 721,252.8 722,252.8 723,252.9 724,252.9 725,253 726,253 727,253 728,253"/><path d="M435,213.3 436,213.5 437,213.6 438,213.8 439,213.9 440,214 441,214 442,214 443,214 444,214 445,213.9 446,213.7 447,213.5 448,213.2 449,212.9 450,212.7 451,212.3 452,212 453,211.6 454,211.2 455,210.8 456,210.4 457,210.1 458,209.7 459,209.4 460,209.1 461,208.8 462,208.6 463,208.3 464,208.1 465,207.9 466,207.7 467,207.6 468,207.5 469,207.4 470,207.3 471,207.2 472,207.1 473,207 474,206.8 475,206.6 476,206.4 477,206.1 478,205.8 479,205.6 480,205.4 481,205.3 482,205.2 483,205.1 484,205.1 485,205 486,204.9 487,204.9 488,204.8 489,204.8 490,204.8 491,204.7 492,204.7 493,204.8 494,204.9 495,204.9 496,205 497,205.2 498,205.3 499,205.4 500,205.6 501,205.8 502,206 503,206.1 504,206.3 505,206.5 506,206.6 507,206.8 508,206.9 509,207.1 510,207.1 511,207.1 512,206.9 513,206.9 514,206.9 515,207 516,207.1 517,207.2 518,207.4 519,207.5 520,207.5 521,207.5 522,207.3 523,207.1 524,206.7 525,206.1 526,205.3 527,204.3 528,203.1 529,201.4 530,199.4 531,197.4 532,195.8 533,194.4 534,193 535,191.6 536,190 537,188.2 538,186.3 539,184.5 540,182.7 541,180.9 542,179.2 543,177.6 544,176.2 545,174.7 546,173.3 547,172 548,170.8 549,169.6 550,168.5 551,167.3 552,166 553,164.7 554,163.4 555,162.2 556,161 557,159.9 558,158.8 559,157.8 560,156.9 561,156 562,155.1 563,154.2 564,153.4 565,152.5 566,151.7 567,150.9 568,150 569,149.1 570,148.3 571,147.5 572,146.7 573,146.1 574,145.4 575,144.9 576,144.4 577,144 578,143.6 579,143.3 580,143.1 581,143 582,143 583,143 584,143.2 585,143.4 586,143.8 587,144.5 588,145.6 589,146.8 590,147.9 591,149 592,150.2 593,151.7 594,153.5 595,155.3 596,157.2 597,159.2 598,161.3 599,163.4 600,165.5 601,167.6 602,169.5 603,171 604,172.3 605,173.4 606,174.5 607,175.5 608,176.5 609,177.4 610,178.3 611,179.2 612,180.1 613,181 614,181.8 615,182.6 616,183.4 617,184.2 618,185.1 619,186 620,186.9 621,187.9 622,188.8 623,189.8 624,190.8 625,191.8 626,192.8 627,193.8 628,194.8 629,195.8 630,196.8 631,197.8 632,198.8 633,199.8 634,200.7 635,201.6 636,202.4 637,203.3 638,204.1 639,205 640,206 641,207.1 642,208.2 643,209.3 644,210.5 645,211.6 646,212.8 647,213.9 648,215 649,216.1 650,217.1 651,218.2 652,219.2 653,220.2 654,221.2 655,222.2 656,223.2 657,224.1 658,225 659,225.9 660,226.8 661,227.7 662,228.5 663,229.3 664,230.2 665,231 666,231.8 667,232.6 668,233.4 669,234.2 670,234.9 671,235.7 672,236.4 673,237.2 674,237.9 675,238.7 676,239.5 677,240.2 678,241 679,241.7 680,242.4 681,243 682,243.6 683,244.2 684,244.7 685,245.2 686,245.6 687,246 688,246.4 689,246.8 690,247.2 691,247.6 692,247.9 693,248.3 694,248.6 695,248.9 696,249.2 697,249.4 698,249.7 699,249.9 700,250.1 701,250.3 702,250.5 703,250.7 704,250.8 705,251 706,251.1 707,251.2 708,251.4 709,251.5 710,251.7 711,251.8 712,251.9 713,252 714,252.1 715,252.2 716,252.4 717,252.4 718,252.5 719,252.6 720,252.7 721,252.8 722,252.8 723,252.9 724,252.9 725,253 726,253 727,253 728,253"/><path d="M435,212.9 436,213 437,213.2 438,213.3 439,213.4 440,213.5 441,213.5 442,213.5 443,213.5 444,213.5 445,213.4 446,213.2 447,213 448,212.7 449,212.5 450,212.2 451,211.9 452,211.5 453,211.2 454,210.8 455,210.5 456,210.1 457,209.8 458,209.5 459,209.2 460,209 461,208.8 462,208.7 463,208.7 464,208.6 465,208.6 466,208.7 467,208.8 468,208.9 469,209 470,209.1 471,209.3 472,209.4 473,209.5 474,209.6 475,209.6 476,209.6 477,209.6 478,209.6 479,209.5 480,209.6 481,209.6 482,209.7 483,209.8 484,209.9 485,210 486,210.1 487,210.2 488,210.3 489,210.4 490,210.5 491,210.6 492,210.7 493,210.9 494,211.1 495,211.3 496,211.4 497,211.6 498,211.9 499,212.1 500,212.3 501,212.5 502,212.8 503,213 504,213.2 505,213.4 506,213.7 507,213.9 508,214.2 509,214.4 510,214.6 511,214.8 512,214.9 513,215.1 514,215.3 515,215.5 516,215.7 517,215.9 518,216.2 519,216.3 520,216.5 521,216.6 522,216.6 523,216.5 524,216.3 525,216 526,215.4 527,214.7 528,213.7 529,212.5 530,211 531,209.5 532,208.2 533,207.1 534,206 535,204.8 536,203.5 537,202.1 538,200.7 539,199.2 540,197.8 541,196.4 542,195 543,193.7 544,192.4 545,191.2 546,190 547,188.8 548,187.6 549,186.4 550,185.3 551,184 552,182.7 553,181.4 554,180 555,178.7 556,177.4 557,176.2 558,175 559,173.9 560,172.8 561,171.8 562,170.7 563,169.7 564,168.7 565,167.7 566,166.6 567,165.6 568,164.5 569,163.4 570,162.3 571,161.3 572,160.3 573,159.3 574,158.3 575,157.4 576,156.6 577,155.8 578,155 579,154.3 580,153.6 581,153 582,152.4 583,152 584,151.5 585,151.2 586,151 587,151 588,151.2 589,151.5 590,151.7 591,152 592,152.4 593,153 594,153.7 595,154.7 596,155.8 597,156.9 598,158.2 599,159.6 600,160.9 601,162.3 602,163.5 603,164.5 604,165.4 605,166.3 606,167.1 607,167.9 608,168.7 609,169.5 610,170.3 611,171.1 612,171.9 613,172.7 614,173.5 615,174.3 616,175.1 617,175.9 618,176.8 619,177.8 620,178.8 621,179.8 622,180.9 623,182 624,183.1 625,184.1 626,185.2 627,186.3 628,187.4 629,188.5 630,189.6 631,190.8 632,191.9 633,193 634,194 635,195 636,195.9 637,196.9 638,197.8 639,198.9 640,200 641,201.2 642,202.4 643,203.7 644,205 645,206.3 646,207.6 647,208.9 648,210.1 649,211.3 650,212.5 651,213.7 652,214.8 653,216 654,217.1 655,218.2 656,219.3 657,220.3 658,221.4 659,222.4 660,223.4 661,224.3 662,225.3 663,226.3 664,227.2 665,228.1 666,229 667,229.9 668,230.8 669,231.7 670,232.6 671,233.4 672,234.3 673,235.1 674,236 675,236.8 676,237.7 677,238.6 678,239.4 679,240.2 680,241 681,241.8 682,242.5 683,243.1 684,243.7 685,244.2 686,244.7 687,245.2 688,245.6 689,246 690,246.5 691,246.9 692,247.3 693,247.7 694,248 695,248.4 696,248.7 697,249 698,249.3 699,249.5 700,249.8 701,250 702,250.2 703,250.4 704,250.5 705,250.7 706,250.9 707,251 708,251.2 709,251.3 710,251.5 711,251.6 712,251.8 713,251.9 714,252 715,252.2 716,252.3 717,252.4 718,252.5 719,252.6 720,252.7 721,252.7 722,252.8 723,252.9 724,252.9 725,252.9 726,253 727,253 728,253"/><path d="M435,212.4 436,212.5 437,212.7 438,212.8 439,212.9 440,212.9 441,213 442,213 443,213 444,212.9 445,212.8 446,212.7 447,212.4 448,212.2 449,211.9 450,211.7 451,211.4 452,211.1 453,210.7 454,210.4 455,210.1 456,209.8 457,209.5 458,209.3 459,209.1 460,208.9 461,208.9 462,208.9 463,209 464,209.2 465,209.4 466,209.7 467,210 468,210.4 469,210.7 470,211.1 471,211.5 472,211.8 473,212.1 474,212.4 475,212.7 476,213 477,213.2 478,213.5 479,213.7 480,214 481,214.2 482,214.4 483,214.7 484,214.9 485,215.2 486,215.4 487,215.7 488,216 489,216.2 490,216.5 491,216.8 492,217.1 493,217.3 494,217.6 495,217.9 496,218.2 497,218.5 498,218.8 499,219.1 500,219.4 501,219.6 502,219.9 503,220.2 504,220.5 505,220.8 506,221.1 507,221.4 508,221.8 509,222.1 510,222.5 511,222.9 512,223.3 513,223.7 514,224.1 515,224.4 516,224.8 517,225.1 518,225.4 519,225.7 520,226 521,226.2 522,226.3 523,226.4 524,226.5 525,226.5 526,226.2 527,225.7 528,225 529,224.2 530,223.2 531,222.3 532,221.4 533,220.5 534,219.6 535,218.7 536,217.8 537,216.8 538,215.8 539,214.7 540,213.7 541,212.6 542,211.6 543,210.6 544,209.6 545,208.5 546,207.5 547,206.4 548,205.3 549,204.2 550,203 551,201.7 552,200.4 553,198.9 554,197.5 555,196.1 556,194.7 557,193.4 558,192.1 559,190.8 560,189.6 561,188.4 562,187.2 563,186 564,184.8 565,183.6 566,182.4 567,181.1 568,179.8 569,178.5 570,177.2 571,175.8 572,174.5 573,173.2 574,171.9 575,170.6 576,169.4 577,168.2 578,167 579,165.8 580,164.7 581,163.5 582,162.4 583,161.4 584,160.4 585,159.5 586,158.6 587,157.8 588,157 589,156.3 590,155.7 591,155.2 592,154.7 593,154.3 594,154 595,154 596,154.2 597,154.6 598,155 599,155.5 600,156 601,156.6 602,157.2 603,157.7 604,158.2 605,158.8 606,159.3 607,159.9 608,160.5 609,161.2 610,161.8 611,162.5 612,163.2 613,163.9 614,164.7 615,165.5 616,166.3 617,167.2 618,168.2 619,169.2 620,170.2 621,171.4 622,172.5 623,173.7 624,174.9 625,176.1 626,177.3 627,178.5 628,179.6 629,180.8 630,182.1 631,183.4 632,184.6 633,185.8 634,187 635,188.1 636,189.1 637,190.1 638,191.2 639,192.4 640,193.6 641,194.9 642,196.3 643,197.7 644,199.2 645,200.6 646,202.1 647,203.5 648,204.9 649,206.3 650,207.6 651,208.9 652,210.2 653,211.4 654,212.7 655,213.9 656,215.2 657,216.3 658,217.5 659,218.6 660,219.7 661,220.8 662,221.9 663,223 664,224.1 665,225.1 666,226.1 667,227.1 668,228.1 669,229.1 670,230.1 671,231.1 672,232 673,233 674,233.9 675,234.9 676,235.9 677,236.8 678,237.8 679,238.7 680,239.6 681,240.4 682,241.2 683,241.9 684,242.6 685,243.2 686,243.7 687,244.2 688,244.7 689,245.2 690,245.7 691,246.2 692,246.6 693,247 694,247.5 695,247.8 696,248.2 697,248.5 698,248.9 699,249.2 700,249.4 701,249.7 702,249.9 703,250.1 704,250.3 705,250.4 706,250.6 707,250.8 708,251 709,251.1 710,251.3 711,251.5 712,251.6 713,251.8 714,251.9 715,252.1 716,252.2 717,252.3 718,252.4 719,252.5 720,252.6 721,252.7 722,252.8 723,252.8 724,252.9 725,252.9 726,253 727,253 728,253"/></g><g stroke="#3a3a3a" stroke-width="1.2"><line x1="116" y1="97.2" x2="140" y2="79.5"/><line x1="114.3" y1="130.1" x2="147.9" y2="103"/><line x1="114.1" y1="164.8" x2="159.1" y2="128.8"/><line x1="118.9" y1="187.4" x2="167.7" y2="146.9"/><line x1="125.3" y1="207" x2="175.3" y2="166"/><line x1="132.9" y1="223.6" x2="184.3" y2="182.7"/><line x1="143.1" y1="235.8" x2="193.2" y2="194.2"/><line x1="163.8" y1="245.5" x2="211.1" y2="207"/><line x1="187.8" y1="248.5" x2="225.1" y2="219.3"/><line x1="526" y1="60" x2="543.3" y2="70.7"/><line x1="512.7" y1="77.4" x2="541.4" y2="95.6"/><line x1="503.2" y1="93.8" x2="538.5" y2="117"/><line x1="492.7" y1="112.6" x2="536" y2="138"/><line x1="482.1" y1="129.3" x2="531.5" y2="161"/><line x1="474.3" y1="146.7" x2="528.3" y2="180.5"/><line x1="474.3" y1="164" x2="526.2" y2="196.6"/><line x1="534" y1="196" x2="551" y2="208.2"/><line x1="531.6" y1="212.7" x2="548.5" y2="224.2"/><line x1="525.2" y1="225.5" x2="541.5" y2="237"/></g><g font-family='"Liberation Sans", sans-serif' fill="#1a1a1a" stroke="#1a1a1a" stroke-width="0.3"><text x="0" y="16.8" font-size="16.5" text-anchor="start" stroke-width="0.1">A</text><text x="386" y="20" font-size="16.5" text-anchor="start" >B</text><text x="63.5" y="48.6" font-size="13.7" text-anchor="start" >39.8 μM free Ca<tspan font-size="7.2" dy="-5.6" dx="0.6">2</tspan><tspan font-size="6.5" dx="0.5">+</tspan></text><text x="510.4" y="39.3" font-size="13.5" text-anchor="start" >39.8 μM free Ca<tspan font-size="7.2" dy="-5.6" dx="0.6">2</tspan><tspan font-size="6.5" dx="0.5">+</tspan></text><text x="265" y="27.1" font-size="13.5" text-anchor="start" >Ex = 488 nm</text><text x="636.8" y="27.1" font-size="13.4" text-anchor="start" >Em = 510 nm</text><text x="141" y="80.2" font-size="13.7" text-anchor="start" >1.35</text><text x="148.5" y="103" font-size="13.7" text-anchor="start" >0.60</text><text x="159.8" y="127.6" font-size="13.7" text-anchor="start" >0.35</text><text x="169.3" y="146.9" font-size="13.7" text-anchor="start" >0.23</text><text x="177" y="166" font-size="13.7" text-anchor="start" >0.15</text><text x="185.7" y="182.7" font-size="13.7" text-anchor="start" >0.10</text><text x="195.4" y="194.2" font-size="13.7" text-anchor="start" >0.065</text><text x="212.4" y="207" font-size="13.7" text-anchor="start" >0.038</text><text x="227.4" y="219.3" font-size="13.7" text-anchor="start" >0.017</text><text x="499.8" y="61.5" font-size="13.7" text-anchor="start" >1.35</text><text x="484.5" y="78.3" font-size="13.7" text-anchor="start" >0.60</text><text x="474.9" y="94.6" font-size="13.7" text-anchor="start" >0.35</text><text x="464.5" y="112.6" font-size="13.7" text-anchor="start" >0.23</text><text x="454.5" y="129.8" font-size="13.7" text-anchor="start" >0.15</text><text x="444.4" y="145.6" font-size="13.7" text-anchor="start" >0.10</text><text x="439.8" y="164.9" font-size="13.7" text-anchor="start" >0.065</text><text x="555.7" y="214.9" font-size="13.7" text-anchor="start" >0.038</text><text x="551.7" y="232.5" font-size="13.7" text-anchor="start" >0.017</text><text x="544" y="245.2" font-size="13.7" text-anchor="start" >0</text><text x="61" y="273" font-size="13.8" text-anchor="middle" >500</text><text x="158" y="273" font-size="13.8" text-anchor="middle" >550</text><text x="254.4" y="273" font-size="13.8" text-anchor="middle" >600</text><text x="351.7" y="273" font-size="13.8" text-anchor="middle" >650</text><text x="435" y="275.7" font-size="13.8" text-anchor="middle" >250</text><text x="508" y="275.7" font-size="13.8" text-anchor="middle" >300</text><text x="581.5" y="275.7" font-size="13.8" text-anchor="middle" >350</text><text x="654.8" y="275.7" font-size="13.8" text-anchor="middle" >400</text><text x="728" y="275.7" font-size="13.8" text-anchor="middle" >450</text><text x="202.5" y="297" font-size="17.4" text-anchor="middle" >Wavelength (nm)</text><text x="583" y="298" font-size="17.4" text-anchor="middle" >Wavelength (nm)</text><text x="0" y="0" font-size="17.4" text-anchor="middle" transform="translate(39.6,128.5) rotate(-90)">Fluorescence emission</text><text x="0" y="0" font-size="17.2" text-anchor="middle" transform="translate(420.2,130.1) rotate(-90)">Fluorescence excitation</text></g></svg>
</body></html>
